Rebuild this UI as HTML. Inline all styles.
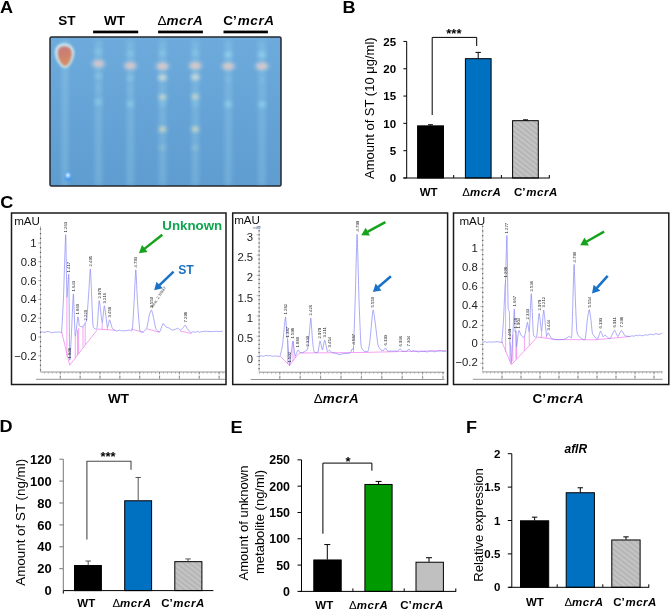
<!DOCTYPE html>
<html><head><meta charset="utf-8"><style>
html,body{margin:0;padding:0;background:#fff;}
svg{display:block;font-family:"Liberation Sans", sans-serif;will-change:transform;}
</style></head><body>
<svg width="670" height="611" viewBox="0 0 670 611">
<rect width="670" height="611" fill="#fff"/>
<text x="0" y="0" font-size="16" font-weight="bold" transform="translate(0.1,12.6) scale(1.13,1)">A</text>
<text x="0" y="0" font-size="16" font-weight="bold" transform="translate(342.6,12.6) scale(1.13,1)">B</text>
<text x="0" y="0" font-size="16" font-weight="bold" transform="translate(0.2,207.6) scale(1.13,1)">C</text>
<text x="0" y="0" font-size="16" font-weight="bold" transform="translate(-0.4,432.4) scale(1.13,1)">D</text>
<text x="0" y="0" font-size="16" font-weight="bold" transform="translate(230.5,433.2) scale(1.13,1)">E</text>
<text x="0" y="0" font-size="16" font-weight="bold" transform="translate(466.1,433.2) scale(1.13,1)">F</text>
<text x="67" y="24.8" font-size="13.5" font-weight="bold" font-style="normal" text-anchor="middle" fill="#000" >ST</text>
<text x="114.5" y="24.7" font-size="13.5" font-weight="bold" font-style="normal" text-anchor="middle" fill="#000" >WT</text>
<text x="180.4" y="24.7" font-size="13.5" font-weight="bold" font-style="normal" text-anchor="middle" fill="#000" ><tspan font-weight="normal" font-style="normal">Δ</tspan><tspan font-style="italic" letter-spacing="0.61">mcrA</tspan></text>
<text x="249" y="24.7" font-size="13.5" font-weight="bold" font-style="normal" text-anchor="middle" fill="#000" >C’<tspan font-style="italic" letter-spacing="0.61" dx="0.81">mcrA</tspan></text>
<rect x="93.1" y="30.6" width="45.099999999999994" height="2.7" fill="#000" stroke="none" stroke-width="0" />
<rect x="158.1" y="30.6" width="44.80000000000001" height="2.7" fill="#000" stroke="none" stroke-width="0" />
<rect x="223.5" y="30.6" width="44.39999999999998" height="2.7" fill="#000" stroke="none" stroke-width="0" />
<defs><filter id="b1" x="-50%" y="-50%" width="200%" height="200%"><feGaussianBlur stdDeviation="2.0"/></filter><filter id="b2" x="-50%" y="-50%" width="200%" height="200%"><feGaussianBlur stdDeviation="2.5"/></filter><filter id="b3" x="-50%" y="-50%" width="200%" height="200%"><feGaussianBlur stdDeviation="1.0"/></filter><clipPath id="plate"><rect x="50.5" y="37.5" width="230" height="148"/></clipPath><pattern id="hatch" patternUnits="userSpaceOnUse" width="4" height="4" patternTransform="rotate(-52)"><rect width="4" height="4" fill="#c4c4c4"/><rect width="1.7" height="4" fill="#b3b3b3"/></pattern></defs>
<linearGradient id="plategrad" x1="0" y1="0" x2="0" y2="1"><stop offset="0" stop-color="#6eabdc"/><stop offset="0.45" stop-color="#66a4d7"/><stop offset="1" stop-color="#5f9dd1"/></linearGradient>
<rect x="50" y="37" width="231" height="149" fill="url(#plategrad)" stroke="#25282f" stroke-width="1.5" rx="1.5"/>
<g clip-path="url(#plate)">
<rect x="62" y="40" width="6" height="146" fill="#a4dcf0" stroke="none" stroke-width="0" opacity="0.33" filter="url(#b2)"/>
<rect x="95.5" y="40" width="6" height="146" fill="#a4dcf0" stroke="none" stroke-width="0" opacity="0.33" filter="url(#b2)"/>
<rect x="127.30000000000001" y="40" width="6" height="146" fill="#a4dcf0" stroke="none" stroke-width="0" opacity="0.33" filter="url(#b2)"/>
<rect x="159.5" y="40" width="6" height="146" fill="#a4dcf0" stroke="none" stroke-width="0" opacity="0.33" filter="url(#b2)"/>
<rect x="192.3" y="40" width="6" height="146" fill="#a4dcf0" stroke="none" stroke-width="0" opacity="0.33" filter="url(#b2)"/>
<rect x="225.3" y="40" width="6" height="146" fill="#a4dcf0" stroke="none" stroke-width="0" opacity="0.33" filter="url(#b2)"/>
<rect x="258.9" y="40" width="6" height="146" fill="#a4dcf0" stroke="none" stroke-width="0" opacity="0.33" filter="url(#b2)"/>
<linearGradient id="stg" x1="0" y1="0" x2="0.25" y2="1"><stop offset="0" stop-color="#c97a80"/><stop offset="0.5" stop-color="#cc806e"/><stop offset="1" stop-color="#d48e62"/></linearGradient>
<path d="M64.5,43.2 C71.5,43.2 75.5,49 74,55.5 C72.5,62 69,68 65,68 C60.5,68 55,60 54.8,52.5 C54.8,46.5 58.5,43.2 64.5,43.2 Z" fill="#d4ecf0" opacity="0.9" filter="url(#b3)"/>
<path d="M64.5,46.3 C70,46.3 72.6,50.5 71.6,56 C70.6,61.5 67.6,66 65.2,66 C62,66 58,59.5 57.8,53 C57.8,48.5 60,46.3 64.5,46.3 Z" fill="url(#stg)" filter="url(#b3)"/>
<ellipse cx="98.5" cy="51.8" rx="3.2" ry="2.2" fill="#98dcf0" opacity="0.55" filter="url(#b1)"/>
<ellipse cx="98.5" cy="63.8" rx="6.4" ry="3.2" fill="#f0dcd0" opacity="0.8" filter="url(#b1)"/>
<ellipse cx="98.5" cy="63.8" rx="3.2" ry="1.5" fill="#e4a8b0" opacity="0.7" filter="url(#b1)"/>
<ellipse cx="98.5" cy="76.0" rx="3" ry="2" fill="#a8e4f4" opacity="0.5" filter="url(#b1)"/>
<ellipse cx="98.5" cy="88" rx="2.5" ry="1.8" fill="#a0d8f0" opacity="0.25" filter="url(#b1)"/>
<ellipse cx="98.5" cy="102.0" rx="3.2" ry="2.4" fill="#a0e6f6" opacity="0.6" filter="url(#b1)"/>
<ellipse cx="130.3" cy="53.8" rx="3.2" ry="2.2" fill="#98dcf0" opacity="0.55" filter="url(#b1)"/>
<ellipse cx="130.3" cy="65.8" rx="6.4" ry="3.2" fill="#f0dcd0" opacity="0.8" filter="url(#b1)"/>
<ellipse cx="130.3" cy="65.8" rx="3.2" ry="1.5" fill="#e4a8b0" opacity="0.7" filter="url(#b1)"/>
<ellipse cx="130.3" cy="78.0" rx="3" ry="2" fill="#a8e4f4" opacity="0.5" filter="url(#b1)"/>
<ellipse cx="130.3" cy="90" rx="2.5" ry="1.8" fill="#a0d8f0" opacity="0.25" filter="url(#b1)"/>
<ellipse cx="130.3" cy="104.0" rx="3.2" ry="2.4" fill="#a0e6f6" opacity="0.6" filter="url(#b1)"/>
<ellipse cx="162.5" cy="53.2" rx="3.2" ry="2.2" fill="#98dcf0" opacity="0.55" filter="url(#b1)"/>
<ellipse cx="162.5" cy="66.3" rx="6.4" ry="3.2" fill="#f0dcd0" opacity="0.85" filter="url(#b1)"/>
<ellipse cx="162.5" cy="66.3" rx="3.2" ry="1.5" fill="#e4a8b0" opacity="0.7" filter="url(#b1)"/>
<ellipse cx="162.5" cy="77.5" rx="4.2" ry="2.6" fill="#f2eed8" opacity="0.85" filter="url(#b1)"/>
<ellipse cx="162.5" cy="97.2" rx="3.6" ry="2.5" fill="#f2ecc8" opacity="0.8" filter="url(#b1)"/>
<ellipse cx="162.5" cy="103.8" rx="3" ry="2" fill="#a0e0f0" opacity="0.45" filter="url(#b1)"/>
<ellipse cx="162.5" cy="129.2" rx="3.5" ry="2.5" fill="#f2e8b8" opacity="0.85" filter="url(#b1)"/>
<ellipse cx="162.5" cy="147.5" rx="2.8" ry="2.2" fill="#d0dcc8" opacity="0.4" filter="url(#b1)"/>
<ellipse cx="195.3" cy="52.7" rx="3.2" ry="2.2" fill="#98dcf0" opacity="0.55" filter="url(#b1)"/>
<ellipse cx="195.3" cy="65.8" rx="6.4" ry="3.2" fill="#f0dcd0" opacity="0.85" filter="url(#b1)"/>
<ellipse cx="195.3" cy="65.8" rx="3.2" ry="1.5" fill="#e4a8b0" opacity="0.7" filter="url(#b1)"/>
<ellipse cx="195.3" cy="77.0" rx="4.2" ry="2.6" fill="#f2eed8" opacity="0.85" filter="url(#b1)"/>
<ellipse cx="195.3" cy="96.7" rx="3.6" ry="2.5" fill="#f2ecc8" opacity="0.8" filter="url(#b1)"/>
<ellipse cx="195.3" cy="103.3" rx="3" ry="2" fill="#a0e0f0" opacity="0.45" filter="url(#b1)"/>
<ellipse cx="195.3" cy="129.2" rx="3.5" ry="2.5" fill="#f2e8b8" opacity="0.85" filter="url(#b1)"/>
<ellipse cx="195.3" cy="147.5" rx="2.8" ry="2.2" fill="#d0dcc8" opacity="0.4" filter="url(#b1)"/>
<ellipse cx="228.3" cy="54.5" rx="3.4" ry="2.4" fill="#a0e8f8" opacity="0.7" filter="url(#b1)"/>
<ellipse cx="228.3" cy="66.3" rx="6.4" ry="3.2" fill="#f0dcd0" opacity="0.85" filter="url(#b1)"/>
<ellipse cx="228.3" cy="66.3" rx="3.2" ry="1.5" fill="#e4a8b0" opacity="0.7" filter="url(#b1)"/>
<ellipse cx="228.3" cy="104.2" rx="3.4" ry="2.6" fill="#a0e8f8" opacity="0.65" filter="url(#b1)"/>
<ellipse cx="228.3" cy="80" rx="2.5" ry="2" fill="#a0dcf0" opacity="0.3" filter="url(#b1)"/>
<ellipse cx="261.9" cy="54.5" rx="3.4" ry="2.4" fill="#a0e8f8" opacity="0.7" filter="url(#b1)"/>
<ellipse cx="261.9" cy="66.3" rx="6.4" ry="3.2" fill="#f0dcd0" opacity="0.85" filter="url(#b1)"/>
<ellipse cx="261.9" cy="66.3" rx="3.2" ry="1.5" fill="#e4a8b0" opacity="0.7" filter="url(#b1)"/>
<ellipse cx="261.9" cy="104.2" rx="3.4" ry="2.6" fill="#a0e8f8" opacity="0.65" filter="url(#b1)"/>
<ellipse cx="261.9" cy="80" rx="2.5" ry="2" fill="#a0dcf0" opacity="0.3" filter="url(#b1)"/>
<ellipse cx="68" cy="176.5" rx="3.4" ry="4.6" fill="#3f95f4" opacity="0.85" filter="url(#b3)"/>
<ellipse cx="67.9" cy="175.2" rx="2.0" ry="2.2" fill="#e8f8ff" opacity="1" filter="url(#b3)"/>
</g>
<rect x="417.59999999999997" y="125.8648" width="25.899999999999988" height="52.1352" fill="#000" stroke="#000" stroke-width="1" />
<rect x="465.4" y="58.68220000000001" width="25.7" height="119.31779999999999" fill="#0070c0" stroke="#000" stroke-width="1" />
<rect x="512.6" y="120.6759" width="25.7" height="57.3241" fill="url(#hatch)" stroke="#000" stroke-width="1" />
<line x1="430.5" y1="124.74549999999999" x2="430.5" y2="125.5648" stroke="#000" stroke-width="1" />
<line x1="428.0" y1="124.74549999999999" x2="433.0" y2="124.74549999999999" stroke="#000" stroke-width="1" />
<line x1="478.2" y1="52.37400000000001" x2="478.2" y2="58.38220000000001" stroke="#000" stroke-width="1" />
<line x1="475.5" y1="52.37400000000001" x2="480.9" y2="52.37400000000001" stroke="#000" stroke-width="1" />
<line x1="525.5" y1="119.8297" x2="525.5" y2="120.3759" stroke="#000" stroke-width="1" />
<line x1="523.0" y1="119.8297" x2="528.0" y2="119.8297" stroke="#000" stroke-width="1" />
<line x1="403.4" y1="178" x2="549.8" y2="178" stroke="#000" stroke-width="1" />
<line x1="453.7" y1="178" x2="453.7" y2="175" stroke="#000" stroke-width="1" />
<line x1="501.4" y1="178" x2="501.4" y2="175" stroke="#000" stroke-width="1" />
<line x1="549.3" y1="178" x2="549.3" y2="175" stroke="#000" stroke-width="1" />
<line x1="406.7" y1="41.45000000000002" x2="406.7" y2="178.0" stroke="#000" stroke-width="1" />
<line x1="403.4" y1="178.0" x2="406.7" y2="178.0" stroke="#000" stroke-width="1" />
<text x="396.09999999999997" y="182.14" font-size="11.5" font-weight="bold" font-style="normal" text-anchor="end" fill="#000" >0</text>
<line x1="403.4" y1="150.69" x2="406.7" y2="150.69" stroke="#000" stroke-width="1" />
<text x="396.09999999999997" y="154.82999999999998" font-size="11.5" font-weight="bold" font-style="normal" text-anchor="end" fill="#000" >5</text>
<line x1="403.4" y1="123.38" x2="406.7" y2="123.38" stroke="#000" stroke-width="1" />
<text x="396.09999999999997" y="127.52" font-size="11.5" font-weight="bold" font-style="normal" text-anchor="end" fill="#000" >10</text>
<line x1="403.4" y1="96.07000000000001" x2="406.7" y2="96.07000000000001" stroke="#000" stroke-width="1" />
<text x="396.09999999999997" y="100.21000000000001" font-size="11.5" font-weight="bold" font-style="normal" text-anchor="end" fill="#000" >15</text>
<line x1="403.4" y1="68.76" x2="406.7" y2="68.76" stroke="#000" stroke-width="1" />
<text x="396.09999999999997" y="72.9" font-size="11.5" font-weight="bold" font-style="normal" text-anchor="end" fill="#000" >20</text>
<line x1="403.4" y1="41.45000000000002" x2="406.7" y2="41.45000000000002" stroke="#000" stroke-width="1" />
<text x="396.09999999999997" y="45.59000000000002" font-size="11.5" font-weight="bold" font-style="normal" text-anchor="end" fill="#000" >25</text>
<path d="M432.2,115 V37.4 H476.7 V46" fill="none" stroke="#000" stroke-width="1"/>
<text x="453.9" y="38.2" font-size="13" font-weight="bold" font-style="normal" text-anchor="middle" fill="#000" >***</text>
<text x="428.7" y="196.4" font-size="11.5" font-weight="bold" font-style="normal" text-anchor="middle" fill="#000" >WT</text>
<text x="481.8" y="196.4" font-size="11.5" font-weight="bold" font-style="normal" text-anchor="middle" fill="#000" ><tspan font-weight="normal" font-style="normal">Δ</tspan><tspan font-style="italic" letter-spacing="0.52">mcrA</tspan></text>
<text x="535.9" y="196.4" font-size="11.5" font-weight="bold" font-style="normal" text-anchor="middle" fill="#000" >C’<tspan font-style="italic" letter-spacing="0.52" dx="0.69">mcrA</tspan></text>
<text x="0" y="0" font-size="13" font-weight="normal" font-style="normal" text-anchor="middle" fill="#000" transform="translate(374.2,108.2) rotate(-90)">Amount of ST (10 μg/ml)</text>
<rect x="74.5" y="565.4936799999999" width="26.900000000000002" height="25.10632000000005" fill="#000" stroke="#000" stroke-width="1" />
<rect x="124.7" y="500.77327" width="26.900000000000002" height="89.82673000000001" fill="#0070c0" stroke="#000" stroke-width="1" />
<rect x="174.8" y="561.66083" width="27.100000000000005" height="28.939169999999944" fill="url(#hatch)" stroke="#000" stroke-width="1" />
<line x1="88.2" y1="561.0323000000001" x2="88.2" y2="565.19368" stroke="#555" stroke-width="1" />
<line x1="85.5" y1="561.0323000000001" x2="90.9" y2="561.0323000000001" stroke="#555" stroke-width="1" />
<line x1="138.2" y1="477.47617" x2="138.2" y2="500.47327" stroke="#555" stroke-width="1" />
<line x1="135.5" y1="477.47617" x2="140.89999999999998" y2="477.47617" stroke="#555" stroke-width="1" />
<line x1="188.1" y1="558.9516100000001" x2="188.1" y2="561.3608300000001" stroke="#555" stroke-width="1" />
<line x1="185.4" y1="558.9516100000001" x2="190.79999999999998" y2="558.9516100000001" stroke="#555" stroke-width="1" />
<line x1="63.3" y1="459.188" x2="63.3" y2="568.698" stroke="#777" stroke-width="1" />
<line x1="59.3" y1="568.698" x2="63.3" y2="568.698" stroke="#777" stroke-width="1" />
<text x="51.8" y="573.3779999999999" font-size="13" font-weight="bold" font-style="normal" text-anchor="end" fill="#000" >20</text>
<line x1="59.3" y1="546.796" x2="63.3" y2="546.796" stroke="#777" stroke-width="1" />
<text x="51.8" y="551.476" font-size="13" font-weight="bold" font-style="normal" text-anchor="end" fill="#000" >40</text>
<line x1="59.3" y1="524.894" x2="63.3" y2="524.894" stroke="#777" stroke-width="1" />
<text x="51.8" y="529.574" font-size="13" font-weight="bold" font-style="normal" text-anchor="end" fill="#000" >60</text>
<line x1="59.3" y1="502.992" x2="63.3" y2="502.992" stroke="#777" stroke-width="1" />
<text x="51.8" y="507.672" font-size="13" font-weight="bold" font-style="normal" text-anchor="end" fill="#000" >80</text>
<line x1="59.3" y1="481.09000000000003" x2="63.3" y2="481.09000000000003" stroke="#777" stroke-width="1" />
<text x="51.8" y="485.77000000000004" font-size="13" font-weight="bold" font-style="normal" text-anchor="end" fill="#000" >100</text>
<line x1="59.3" y1="459.188" x2="63.3" y2="459.188" stroke="#777" stroke-width="1" />
<text x="51.8" y="463.868" font-size="13" font-weight="bold" font-style="normal" text-anchor="end" fill="#000" >120</text>
<line x1="63.3" y1="568.698" x2="63.3" y2="590.6" stroke="#777" stroke-width="1" />
<text x="51.8" y="595.28" font-size="13" font-weight="bold" font-style="normal" text-anchor="end" fill="#000" >0</text>
<line x1="63.3" y1="590.6" x2="213.4" y2="590.6" stroke="#000" stroke-width="1" />
<line x1="63.3" y1="590.6" x2="63.3" y2="593.6" stroke="#000" stroke-width="1" />
<path d="M86.9,539.5 V461.2 H131 V469.8" fill="none" stroke="#4a4a4a" stroke-width="1.1"/>
<text x="108" y="461" font-size="13" font-weight="bold" font-style="normal" text-anchor="middle" fill="#000" >***</text>
<text x="86.3" y="607.3" font-size="11.5" font-weight="bold" font-style="normal" text-anchor="middle" fill="#000" >WT</text>
<text x="132" y="607.3" font-size="11.5" font-weight="bold" font-style="normal" text-anchor="middle" fill="#000" ><tspan font-weight="normal" font-style="normal">Δ</tspan><tspan font-style="italic" letter-spacing="0.52">mcrA</tspan></text>
<text x="183" y="607.3" font-size="11.5" font-weight="bold" font-style="normal" text-anchor="middle" fill="#000" >C’<tspan font-style="italic" letter-spacing="0.52" dx="0.69">mcrA</tspan></text>
<text x="0" y="0" font-size="13.4" font-weight="normal" font-style="normal" text-anchor="middle" fill="#000" transform="translate(25.4,522.3) rotate(-90)">Amount of ST (ng/ml)</text>
<rect x="313.79999999999995" y="559.9701399999999" width="27.400000000000045" height="31.42986000000003" fill="#000" stroke="#000" stroke-width="1" />
<rect x="364.9" y="484.46044" width="27.2" height="106.93955999999999" fill="#009900" stroke="#000" stroke-width="1" />
<rect x="416.0" y="562.2327999999999" width="27.399999999999988" height="29.167200000000047" fill="#c0c0c0" stroke="#000" stroke-width="1" />
<line x1="327.3" y1="544.5681999999999" x2="327.3" y2="559.67014" stroke="#000" stroke-width="1" />
<line x1="324.3" y1="544.5681999999999" x2="330.3" y2="544.5681999999999" stroke="#000" stroke-width="1" />
<line x1="378.6" y1="481.4242" x2="378.6" y2="484.16044" stroke="#000" stroke-width="1" />
<line x1="375.6" y1="481.4242" x2="381.6" y2="481.4242" stroke="#000" stroke-width="1" />
<line x1="429.0" y1="557.7232" x2="429.0" y2="561.9327999999999" stroke="#000" stroke-width="1" />
<line x1="426.0" y1="557.7232" x2="432.0" y2="557.7232" stroke="#000" stroke-width="1" />
<line x1="301.5" y1="459.84999999999997" x2="301.5" y2="591.4" stroke="#000" stroke-width="1" />
<line x1="297.5" y1="591.4" x2="301.5" y2="591.4" stroke="#000" stroke-width="1" />
<text x="290.0" y="595.864" font-size="12.4" font-weight="bold" font-style="normal" text-anchor="end" fill="#000" >0</text>
<line x1="297.5" y1="565.09" x2="301.5" y2="565.09" stroke="#000" stroke-width="1" />
<text x="290.0" y="569.5540000000001" font-size="12.4" font-weight="bold" font-style="normal" text-anchor="end" fill="#000" >50</text>
<line x1="297.5" y1="538.78" x2="301.5" y2="538.78" stroke="#000" stroke-width="1" />
<text x="290.0" y="543.244" font-size="12.4" font-weight="bold" font-style="normal" text-anchor="end" fill="#000" >100</text>
<line x1="297.5" y1="512.47" x2="301.5" y2="512.47" stroke="#000" stroke-width="1" />
<text x="290.0" y="516.9340000000001" font-size="12.4" font-weight="bold" font-style="normal" text-anchor="end" fill="#000" >150</text>
<line x1="297.5" y1="486.15999999999997" x2="301.5" y2="486.15999999999997" stroke="#000" stroke-width="1" />
<text x="290.0" y="490.62399999999997" font-size="12.4" font-weight="bold" font-style="normal" text-anchor="end" fill="#000" >200</text>
<line x1="297.5" y1="459.84999999999997" x2="301.5" y2="459.84999999999997" stroke="#000" stroke-width="1" />
<text x="290.0" y="464.31399999999996" font-size="12.4" font-weight="bold" font-style="normal" text-anchor="end" fill="#000" >250</text>
<line x1="299.6" y1="591.4" x2="456.2" y2="591.4" stroke="#000" stroke-width="1" />
<line x1="352.9" y1="591.4" x2="352.9" y2="588.4" stroke="#000" stroke-width="1" />
<line x1="404.2" y1="591.4" x2="404.2" y2="588.4" stroke="#000" stroke-width="1" />
<line x1="455.8" y1="591.4" x2="455.8" y2="588.4" stroke="#000" stroke-width="1" />
<path d="M322.9,533.7 V463.1 H371.9 V470.7" fill="none" stroke="#000" stroke-width="1"/>
<text x="348" y="466" font-size="13" font-weight="bold" font-style="normal" text-anchor="middle" fill="#000" >*</text>
<text x="324.3" y="609.2" font-size="11.5" font-weight="bold" font-style="normal" text-anchor="middle" fill="#000" >WT</text>
<text x="368.7" y="609.2" font-size="11.5" font-weight="bold" font-style="normal" text-anchor="middle" fill="#000" ><tspan font-weight="normal" font-style="normal">Δ</tspan><tspan font-style="italic" letter-spacing="0.52">mcrA</tspan></text>
<text x="422" y="609.2" font-size="11.5" font-weight="bold" font-style="normal" text-anchor="middle" fill="#000" >C’<tspan font-style="italic" letter-spacing="0.52" dx="0.69">mcrA</tspan></text>
<text x="0" y="0" font-size="13" font-weight="normal" font-style="normal" text-anchor="middle" fill="#000" transform="translate(248.3,523) rotate(-90)">Amount of unknown</text>
<text x="0" y="0" font-size="13" font-weight="normal" font-style="normal" text-anchor="middle" fill="#000" transform="translate(264,522) rotate(-90)">metabolite (ng/ml)</text>
<rect x="520.5" y="520.8" width="28.2" height="66.49999999999996" fill="#000" stroke="#000" stroke-width="1" />
<rect x="566.1999999999999" y="492.74399999999997" width="28.2" height="94.556" fill="#0070c0" stroke="#000" stroke-width="1" />
<rect x="611.8" y="539.9715999999999" width="28.300000000000022" height="47.32840000000006" fill="url(#hatch)" stroke="#000" stroke-width="1" />
<line x1="534.6" y1="517.16" x2="534.6" y2="520.5" stroke="#000" stroke-width="1" />
<line x1="531.9" y1="517.16" x2="537.3000000000001" y2="517.16" stroke="#000" stroke-width="1" />
<line x1="580.3" y1="487.768" x2="580.3" y2="492.44399999999996" stroke="#000" stroke-width="1" />
<line x1="577.5999999999999" y1="487.768" x2="583.0" y2="487.768" stroke="#000" stroke-width="1" />
<line x1="626.0" y1="536.866" x2="626.0" y2="539.6715999999999" stroke="#000" stroke-width="1" />
<line x1="623.3" y1="536.866" x2="628.7" y2="536.866" stroke="#000" stroke-width="1" />
<line x1="511.8" y1="453.69999999999993" x2="511.8" y2="587.3" stroke="#000" stroke-width="1" />
<line x1="507.8" y1="587.3" x2="511.8" y2="587.3" stroke="#000" stroke-width="1" />
<text x="500.3" y="591.4399999999999" font-size="11.5" font-weight="bold" font-style="normal" text-anchor="end" fill="#000" >0</text>
<line x1="507.8" y1="553.9" x2="511.8" y2="553.9" stroke="#000" stroke-width="1" />
<text x="500.3" y="558.04" font-size="11.5" font-weight="bold" font-style="normal" text-anchor="end" fill="#000" >0.5</text>
<line x1="507.8" y1="520.5" x2="511.8" y2="520.5" stroke="#000" stroke-width="1" />
<text x="500.3" y="524.64" font-size="11.5" font-weight="bold" font-style="normal" text-anchor="end" fill="#000" >1</text>
<line x1="507.8" y1="487.09999999999997" x2="511.8" y2="487.09999999999997" stroke="#000" stroke-width="1" />
<text x="500.3" y="491.23999999999995" font-size="11.5" font-weight="bold" font-style="normal" text-anchor="end" fill="#000" >1.5</text>
<line x1="507.8" y1="453.69999999999993" x2="511.8" y2="453.69999999999993" stroke="#000" stroke-width="1" />
<text x="500.3" y="457.8399999999999" font-size="11.5" font-weight="bold" font-style="normal" text-anchor="end" fill="#000" >2</text>
<line x1="508.8" y1="587.3" x2="649.1" y2="587.3" stroke="#000" stroke-width="1" />
<line x1="557.2" y1="587.3" x2="557.2" y2="584.3" stroke="#000" stroke-width="1" />
<line x1="602.8" y1="587.3" x2="602.8" y2="584.3" stroke="#000" stroke-width="1" />
<line x1="648.8" y1="587.3" x2="648.8" y2="584.3" stroke="#000" stroke-width="1" />
<text x="575.8" y="453" font-size="12" font-weight="bold" font-style="italic" text-anchor="middle" fill="#000" >aflR</text>
<text x="534.9" y="606" font-size="11.5" font-weight="bold" font-style="normal" text-anchor="middle" fill="#000" >WT</text>
<text x="584" y="606" font-size="11.5" font-weight="bold" font-style="normal" text-anchor="middle" fill="#000" ><tspan font-weight="normal" font-style="normal">Δ</tspan><tspan font-style="italic" letter-spacing="0.52">mcrA</tspan></text>
<text x="635.1" y="606" font-size="11.5" font-weight="bold" font-style="normal" text-anchor="middle" fill="#000" >C’<tspan font-style="italic" letter-spacing="0.52" dx="0.69">mcrA</tspan></text>
<text x="0" y="0" font-size="13" font-weight="normal" font-style="normal" text-anchor="middle" fill="#000" transform="translate(482.6,525) rotate(-90)">Relative expression</text>
<line x1="40.5" y1="226" x2="40.5" y2="372.0" stroke="#b4b4b4" stroke-width="0.8" />
<rect x="39.9" y="228.30000000000004" width="1.2" height="1.2" fill="#555" stroke="none" stroke-width="0" />
<rect x="39.9" y="233.00000000000003" width="1.2" height="1.2" fill="#555" stroke="none" stroke-width="0" />
<rect x="39.9" y="237.70000000000002" width="1.2" height="1.2" fill="#555" stroke="none" stroke-width="0" />
<rect x="39.9" y="242.4" width="1.2" height="1.2" fill="#555" stroke="none" stroke-width="0" />
<rect x="39.9" y="247.1" width="1.2" height="1.2" fill="#555" stroke="none" stroke-width="0" />
<rect x="39.9" y="251.79999999999998" width="1.2" height="1.2" fill="#555" stroke="none" stroke-width="0" />
<rect x="39.9" y="256.49999999999994" width="1.2" height="1.2" fill="#555" stroke="none" stroke-width="0" />
<rect x="39.9" y="261.19999999999993" width="1.2" height="1.2" fill="#555" stroke="none" stroke-width="0" />
<rect x="39.9" y="265.8999999999999" width="1.2" height="1.2" fill="#555" stroke="none" stroke-width="0" />
<rect x="39.9" y="270.5999999999999" width="1.2" height="1.2" fill="#555" stroke="none" stroke-width="0" />
<rect x="39.9" y="275.2999999999999" width="1.2" height="1.2" fill="#555" stroke="none" stroke-width="0" />
<rect x="39.9" y="279.9999999999999" width="1.2" height="1.2" fill="#555" stroke="none" stroke-width="0" />
<rect x="39.9" y="284.6999999999999" width="1.2" height="1.2" fill="#555" stroke="none" stroke-width="0" />
<rect x="39.9" y="289.39999999999986" width="1.2" height="1.2" fill="#555" stroke="none" stroke-width="0" />
<rect x="39.9" y="294.09999999999985" width="1.2" height="1.2" fill="#555" stroke="none" stroke-width="0" />
<rect x="39.9" y="298.79999999999984" width="1.2" height="1.2" fill="#555" stroke="none" stroke-width="0" />
<rect x="39.9" y="303.49999999999983" width="1.2" height="1.2" fill="#555" stroke="none" stroke-width="0" />
<rect x="39.9" y="308.1999999999998" width="1.2" height="1.2" fill="#555" stroke="none" stroke-width="0" />
<rect x="39.9" y="312.8999999999998" width="1.2" height="1.2" fill="#555" stroke="none" stroke-width="0" />
<rect x="39.9" y="317.5999999999998" width="1.2" height="1.2" fill="#555" stroke="none" stroke-width="0" />
<rect x="39.9" y="322.2999999999998" width="1.2" height="1.2" fill="#555" stroke="none" stroke-width="0" />
<rect x="39.9" y="326.9999999999998" width="1.2" height="1.2" fill="#555" stroke="none" stroke-width="0" />
<rect x="39.9" y="331.69999999999976" width="1.2" height="1.2" fill="#555" stroke="none" stroke-width="0" />
<rect x="39.9" y="336.39999999999975" width="1.2" height="1.2" fill="#555" stroke="none" stroke-width="0" />
<rect x="39.9" y="341.09999999999974" width="1.2" height="1.2" fill="#555" stroke="none" stroke-width="0" />
<rect x="39.9" y="345.7999999999997" width="1.2" height="1.2" fill="#555" stroke="none" stroke-width="0" />
<rect x="39.9" y="350.4999999999997" width="1.2" height="1.2" fill="#555" stroke="none" stroke-width="0" />
<rect x="39.9" y="355.1999999999997" width="1.2" height="1.2" fill="#555" stroke="none" stroke-width="0" />
<rect x="39.9" y="359.8999999999997" width="1.2" height="1.2" fill="#555" stroke="none" stroke-width="0" />
<rect x="39.9" y="364.5999999999997" width="1.2" height="1.2" fill="#555" stroke="none" stroke-width="0" />
<rect x="39.9" y="369.29999999999967" width="1.2" height="1.2" fill="#555" stroke="none" stroke-width="0" />
<text x="36.5" y="246.9" font-size="11.3" font-weight="normal" font-style="normal" text-anchor="end" fill="#222" >1</text>
<line x1="38.0" y1="243.0" x2="40.5" y2="243.0" stroke="#a0a8c0" stroke-width="0.8" />
<text x="36.5" y="265.7" font-size="11.3" font-weight="normal" font-style="normal" text-anchor="end" fill="#222" >0.8</text>
<line x1="38.0" y1="261.8" x2="40.5" y2="261.8" stroke="#a0a8c0" stroke-width="0.8" />
<text x="36.5" y="284.5" font-size="11.3" font-weight="normal" font-style="normal" text-anchor="end" fill="#222" >0.6</text>
<line x1="38.0" y1="280.6" x2="40.5" y2="280.6" stroke="#a0a8c0" stroke-width="0.8" />
<text x="36.5" y="303.29999999999995" font-size="11.3" font-weight="normal" font-style="normal" text-anchor="end" fill="#222" >0.4</text>
<line x1="38.0" y1="299.4" x2="40.5" y2="299.4" stroke="#a0a8c0" stroke-width="0.8" />
<text x="36.5" y="322.09999999999997" font-size="11.3" font-weight="normal" font-style="normal" text-anchor="end" fill="#222" >0.2</text>
<line x1="38.0" y1="318.2" x2="40.5" y2="318.2" stroke="#a0a8c0" stroke-width="0.8" />
<text x="36.5" y="340.9" font-size="11.3" font-weight="normal" font-style="normal" text-anchor="end" fill="#222" >0</text>
<line x1="38.0" y1="337.0" x2="40.5" y2="337.0" stroke="#a0a8c0" stroke-width="0.8" />
<text x="36.5" y="359.7" font-size="11.3" font-weight="normal" font-style="normal" text-anchor="end" fill="#222" >−0.2</text>
<line x1="38.0" y1="355.8" x2="40.5" y2="355.8" stroke="#a0a8c0" stroke-width="0.8" />
<line x1="40.5" y1="372.0" x2="225.2" y2="372.0" stroke="#8a8a8a" stroke-width="0.9" />
<line x1="44.41999999999999" y1="372.0" x2="44.41999999999999" y2="373.6" stroke="#9a9a9a" stroke-width="0.7" />
<line x1="48.389999999999986" y1="372.0" x2="48.389999999999986" y2="373.6" stroke="#9a9a9a" stroke-width="0.7" />
<line x1="52.359999999999985" y1="372.0" x2="52.359999999999985" y2="373.6" stroke="#9a9a9a" stroke-width="0.7" />
<line x1="56.329999999999984" y1="372.0" x2="56.329999999999984" y2="373.6" stroke="#9a9a9a" stroke-width="0.7" />
<line x1="60.29999999999998" y1="372.0" x2="60.29999999999998" y2="373.6" stroke="#9a9a9a" stroke-width="0.7" />
<line x1="64.26999999999998" y1="372.0" x2="64.26999999999998" y2="373.6" stroke="#9a9a9a" stroke-width="0.7" />
<line x1="68.23999999999998" y1="372.0" x2="68.23999999999998" y2="373.6" stroke="#9a9a9a" stroke-width="0.7" />
<line x1="72.20999999999998" y1="372.0" x2="72.20999999999998" y2="373.6" stroke="#9a9a9a" stroke-width="0.7" />
<line x1="76.17999999999998" y1="372.0" x2="76.17999999999998" y2="373.6" stroke="#9a9a9a" stroke-width="0.7" />
<line x1="80.14999999999998" y1="372.0" x2="80.14999999999998" y2="373.6" stroke="#9a9a9a" stroke-width="0.7" />
<line x1="84.11999999999998" y1="372.0" x2="84.11999999999998" y2="373.6" stroke="#9a9a9a" stroke-width="0.7" />
<line x1="88.08999999999997" y1="372.0" x2="88.08999999999997" y2="373.6" stroke="#9a9a9a" stroke-width="0.7" />
<line x1="92.05999999999997" y1="372.0" x2="92.05999999999997" y2="373.6" stroke="#9a9a9a" stroke-width="0.7" />
<line x1="96.02999999999997" y1="372.0" x2="96.02999999999997" y2="373.6" stroke="#9a9a9a" stroke-width="0.7" />
<line x1="99.99999999999997" y1="372.0" x2="99.99999999999997" y2="373.6" stroke="#9a9a9a" stroke-width="0.7" />
<line x1="103.96999999999997" y1="372.0" x2="103.96999999999997" y2="373.6" stroke="#9a9a9a" stroke-width="0.7" />
<line x1="107.93999999999997" y1="372.0" x2="107.93999999999997" y2="373.6" stroke="#9a9a9a" stroke-width="0.7" />
<line x1="111.90999999999997" y1="372.0" x2="111.90999999999997" y2="373.6" stroke="#9a9a9a" stroke-width="0.7" />
<line x1="115.87999999999997" y1="372.0" x2="115.87999999999997" y2="373.6" stroke="#9a9a9a" stroke-width="0.7" />
<line x1="119.84999999999997" y1="372.0" x2="119.84999999999997" y2="373.6" stroke="#9a9a9a" stroke-width="0.7" />
<line x1="123.81999999999996" y1="372.0" x2="123.81999999999996" y2="373.6" stroke="#9a9a9a" stroke-width="0.7" />
<line x1="127.78999999999996" y1="372.0" x2="127.78999999999996" y2="373.6" stroke="#9a9a9a" stroke-width="0.7" />
<line x1="131.75999999999996" y1="372.0" x2="131.75999999999996" y2="373.6" stroke="#9a9a9a" stroke-width="0.7" />
<line x1="135.72999999999996" y1="372.0" x2="135.72999999999996" y2="373.6" stroke="#9a9a9a" stroke-width="0.7" />
<line x1="139.69999999999996" y1="372.0" x2="139.69999999999996" y2="373.6" stroke="#9a9a9a" stroke-width="0.7" />
<line x1="143.66999999999996" y1="372.0" x2="143.66999999999996" y2="373.6" stroke="#9a9a9a" stroke-width="0.7" />
<line x1="147.63999999999996" y1="372.0" x2="147.63999999999996" y2="373.6" stroke="#9a9a9a" stroke-width="0.7" />
<line x1="151.60999999999996" y1="372.0" x2="151.60999999999996" y2="373.6" stroke="#9a9a9a" stroke-width="0.7" />
<line x1="155.57999999999996" y1="372.0" x2="155.57999999999996" y2="373.6" stroke="#9a9a9a" stroke-width="0.7" />
<line x1="159.54999999999995" y1="372.0" x2="159.54999999999995" y2="373.6" stroke="#9a9a9a" stroke-width="0.7" />
<line x1="163.51999999999995" y1="372.0" x2="163.51999999999995" y2="373.6" stroke="#9a9a9a" stroke-width="0.7" />
<line x1="167.48999999999995" y1="372.0" x2="167.48999999999995" y2="373.6" stroke="#9a9a9a" stroke-width="0.7" />
<line x1="171.45999999999995" y1="372.0" x2="171.45999999999995" y2="373.6" stroke="#9a9a9a" stroke-width="0.7" />
<line x1="175.42999999999995" y1="372.0" x2="175.42999999999995" y2="373.6" stroke="#9a9a9a" stroke-width="0.7" />
<line x1="179.39999999999995" y1="372.0" x2="179.39999999999995" y2="373.6" stroke="#9a9a9a" stroke-width="0.7" />
<line x1="183.36999999999995" y1="372.0" x2="183.36999999999995" y2="373.6" stroke="#9a9a9a" stroke-width="0.7" />
<line x1="187.33999999999995" y1="372.0" x2="187.33999999999995" y2="373.6" stroke="#9a9a9a" stroke-width="0.7" />
<line x1="191.30999999999995" y1="372.0" x2="191.30999999999995" y2="373.6" stroke="#9a9a9a" stroke-width="0.7" />
<line x1="195.27999999999994" y1="372.0" x2="195.27999999999994" y2="373.6" stroke="#9a9a9a" stroke-width="0.7" />
<line x1="199.24999999999994" y1="372.0" x2="199.24999999999994" y2="373.6" stroke="#9a9a9a" stroke-width="0.7" />
<line x1="203.21999999999994" y1="372.0" x2="203.21999999999994" y2="373.6" stroke="#9a9a9a" stroke-width="0.7" />
<line x1="207.18999999999994" y1="372.0" x2="207.18999999999994" y2="373.6" stroke="#9a9a9a" stroke-width="0.7" />
<line x1="211.15999999999994" y1="372.0" x2="211.15999999999994" y2="373.6" stroke="#9a9a9a" stroke-width="0.7" />
<line x1="215.12999999999994" y1="372.0" x2="215.12999999999994" y2="373.6" stroke="#9a9a9a" stroke-width="0.7" />
<line x1="219.09999999999994" y1="372.0" x2="219.09999999999994" y2="373.6" stroke="#9a9a9a" stroke-width="0.7" />
<line x1="223.06999999999994" y1="372.0" x2="223.06999999999994" y2="373.6" stroke="#9a9a9a" stroke-width="0.7" />
<line x1="60.3" y1="372.0" x2="60.3" y2="374.0" stroke="#777" stroke-width="0.8" />
<line x1="60.3" y1="374.0" x2="60.3" y2="379.3" stroke="#c4c4c4" stroke-width="0.7" />
<rect x="59.8" y="376.0" width="1.0" height="2.4" fill="#8a8a8a" stroke="none" stroke-width="0" />
<line x1="80.15" y1="372.0" x2="80.15" y2="374.0" stroke="#777" stroke-width="0.8" />
<line x1="80.15" y1="374.0" x2="80.15" y2="379.3" stroke="#c4c4c4" stroke-width="0.7" />
<rect x="79.65" y="376.0" width="1.0" height="2.4" fill="#8a8a8a" stroke="none" stroke-width="0" />
<line x1="100.0" y1="372.0" x2="100.0" y2="374.0" stroke="#777" stroke-width="0.8" />
<line x1="100.0" y1="374.0" x2="100.0" y2="379.3" stroke="#c4c4c4" stroke-width="0.7" />
<rect x="99.5" y="376.0" width="1.0" height="2.4" fill="#8a8a8a" stroke="none" stroke-width="0" />
<line x1="119.85" y1="372.0" x2="119.85" y2="374.0" stroke="#777" stroke-width="0.8" />
<line x1="119.85" y1="374.0" x2="119.85" y2="379.3" stroke="#c4c4c4" stroke-width="0.7" />
<rect x="119.35" y="376.0" width="1.0" height="2.4" fill="#8a8a8a" stroke="none" stroke-width="0" />
<line x1="139.7" y1="372.0" x2="139.7" y2="374.0" stroke="#777" stroke-width="0.8" />
<line x1="139.7" y1="374.0" x2="139.7" y2="379.3" stroke="#c4c4c4" stroke-width="0.7" />
<rect x="139.2" y="376.0" width="1.0" height="2.4" fill="#8a8a8a" stroke="none" stroke-width="0" />
<line x1="159.55" y1="372.0" x2="159.55" y2="374.0" stroke="#777" stroke-width="0.8" />
<line x1="159.55" y1="374.0" x2="159.55" y2="379.3" stroke="#c4c4c4" stroke-width="0.7" />
<rect x="159.05" y="376.0" width="1.0" height="2.4" fill="#8a8a8a" stroke="none" stroke-width="0" />
<line x1="179.4" y1="372.0" x2="179.4" y2="374.0" stroke="#777" stroke-width="0.8" />
<line x1="179.4" y1="374.0" x2="179.4" y2="379.3" stroke="#c4c4c4" stroke-width="0.7" />
<rect x="178.9" y="376.0" width="1.0" height="2.4" fill="#8a8a8a" stroke="none" stroke-width="0" />
<line x1="199.25" y1="372.0" x2="199.25" y2="374.0" stroke="#777" stroke-width="0.8" />
<line x1="199.25" y1="374.0" x2="199.25" y2="379.3" stroke="#c4c4c4" stroke-width="0.7" />
<rect x="198.75" y="376.0" width="1.0" height="2.4" fill="#8a8a8a" stroke="none" stroke-width="0" />
<line x1="219.10000000000002" y1="372.0" x2="219.10000000000002" y2="374.0" stroke="#777" stroke-width="0.8" />
<line x1="219.10000000000002" y1="374.0" x2="219.10000000000002" y2="379.3" stroke="#c4c4c4" stroke-width="0.7" />
<rect x="218.60000000000002" y="376.0" width="1.0" height="2.4" fill="#8a8a8a" stroke="none" stroke-width="0" />
<line x1="36.1" y1="379.3" x2="225.2" y2="379.3" stroke="#8a8a8a" stroke-width="0.9" />
<rect x="11.5" y="213" width="214.5" height="171.5" fill="none" stroke="#1a1a1a" stroke-width="1.5" />
<text x="14.2" y="225.2" font-size="11.6" font-weight="normal" font-style="normal" text-anchor="start" fill="#111" >mAU</text>
<path d="M61.6,331.6 L69.7,365.2 L97.8,329.0 L114.7,330.2" fill="none" stroke="#f27af0" stroke-width="0.7"/>
<path d="M131.0,329.0 L143.4,332.3" fill="none" stroke="#f27af0" stroke-width="0.7"/>
<path d="M147.0,328.8 L159.6,332.4" fill="none" stroke="#f27af0" stroke-width="0.7"/>
<path d="M180.0,331.0 L191.5,333.5" fill="none" stroke="#f27af0" stroke-width="0.7"/>
<path d="M66.9,297.0 L66.9,356.5" fill="none" stroke="#f27af0" stroke-width="0.7"/>
<path d="M75.3,336.0 L75.3,357.8" fill="none" stroke="#f27af0" stroke-width="0.7"/>
<path d="M77.5,330.0 L77.5,355.0" fill="none" stroke="#f27af0" stroke-width="0.7"/>
<path d="M78.6,328.0 L78.6,353.6" fill="none" stroke="#f27af0" stroke-width="0.7"/>
<path d="M83.0,327.0 L83.0,347.3" fill="none" stroke="#f27af0" stroke-width="0.7"/>
<path d="M85.2,323.0 L85.2,344.8" fill="none" stroke="#f27af0" stroke-width="0.7"/>
<path d="M102.2,322.8 L102.2,329.5" fill="none" stroke="#f27af0" stroke-width="0.7"/>
<path d="M107.4,327.2 L107.4,329.7" fill="none" stroke="#f27af0" stroke-width="0.7"/>
<path d="M40.50,331.93 C40.70,331.94 42.34,332.03 42.76,332.06 C43.17,332.10 44.74,332.42 45.10,332.37 C45.45,332.31 46.34,331.53 46.72,331.47 C47.11,331.41 48.96,331.64 49.37,331.75 C49.77,331.87 50.86,332.67 51.22,332.74 C51.58,332.80 52.99,332.52 53.38,332.46 C53.77,332.41 55.19,332.17 55.55,332.14 C55.90,332.10 56.89,332.11 57.29,332.09 C57.68,332.07 59.58,331.91 59.97,331.87 C60.36,331.82 61.29,334.47 61.60,331.60 C61.91,328.73 63.03,308.72 63.40,300.00 C63.77,291.28 65.39,234.97 65.70,234.70 C66.02,234.43 66.62,293.39 66.90,297.00 C67.18,300.61 68.55,269.17 68.80,274.80 C69.05,280.43 69.45,354.63 69.70,359.60 C69.95,364.57 71.27,335.90 71.60,330.00 C71.93,324.10 73.08,293.46 73.40,294.00 C73.72,294.54 74.80,333.94 75.20,336.00 C75.61,338.06 77.53,317.83 77.90,316.90 C78.27,315.97 79.02,324.84 79.30,325.70 C79.58,326.56 80.67,326.39 81.00,326.50 C81.33,326.61 82.62,327.23 83.00,326.90 C83.38,326.57 84.87,323.44 85.20,322.80 C85.53,322.16 86.39,322.30 86.70,319.80 C87.01,317.30 88.27,299.57 88.60,295.00 C88.93,290.43 90.09,268.10 90.40,269.00 C90.71,269.90 91.75,299.82 92.00,305.00 C92.25,310.18 92.75,324.43 93.20,326.50 C93.65,328.57 96.46,330.33 97.00,328.00 C97.54,325.67 98.73,301.07 99.20,300.60 C99.67,300.13 101.73,322.33 102.20,322.80 C102.67,323.27 103.93,305.40 104.40,305.80 C104.87,306.20 106.93,325.94 107.40,327.20 C107.87,328.46 109.19,319.77 109.60,319.80 C110.01,319.83 111.60,326.58 112.00,327.50 C112.40,328.42 113.64,329.71 114.00,330.00 C114.36,330.29 115.67,330.69 116.00,330.77 C116.33,330.85 117.27,330.94 117.62,330.88 C117.98,330.82 119.59,330.09 119.94,330.10 C120.30,330.11 121.19,330.92 121.53,330.97 C121.86,331.03 123.25,330.73 123.69,330.70 C124.13,330.67 125.90,330.69 126.39,330.63 C126.88,330.58 128.61,330.17 129.15,330.07 C129.68,329.97 131.85,332.21 132.30,329.50 C132.75,326.79 133.88,305.36 134.20,300.00 C134.51,294.64 135.51,269.90 135.80,269.90 C136.09,269.90 137.04,294.58 137.40,300.00 C137.76,305.42 139.26,327.23 139.80,330.10 C140.34,332.97 142.75,332.14 143.40,331.90 C144.05,331.66 146.47,328.92 147.00,327.40 C147.53,325.88 148.90,316.57 149.30,315.00 C149.71,313.43 151.11,309.73 151.50,310.00 C151.89,310.27 153.19,316.27 153.60,318.00 C154.00,319.73 155.46,327.95 156.00,329.20 C156.54,330.45 159.10,332.10 159.60,331.90 C160.10,331.70 161.28,327.76 161.60,327.00 C161.92,326.24 162.81,323.40 163.20,323.40 C163.59,323.40 165.41,326.60 165.90,327.00 C166.39,327.40 168.03,327.52 168.60,327.80 C169.17,328.08 171.62,329.95 172.20,330.10 C172.78,330.25 174.51,329.66 175.00,329.50 C175.49,329.34 177.12,328.25 177.60,328.30 C178.08,328.35 179.81,330.13 180.30,330.10 C180.79,330.07 182.56,328.44 183.00,328.00 C183.44,327.56 184.79,325.11 185.20,325.20 C185.60,325.29 186.97,328.32 187.50,329.00 C188.03,329.68 190.60,332.55 191.10,332.80 C191.59,333.05 192.58,331.77 193.00,331.72 C193.42,331.67 195.38,332.29 195.77,332.24 C196.17,332.19 197.13,331.14 197.44,331.14 C197.76,331.15 198.92,332.20 199.27,332.25 C199.62,332.30 201.02,331.77 201.39,331.70 C201.75,331.63 202.96,331.52 203.32,331.47 C203.68,331.43 204.98,331.19 205.37,331.19 C205.77,331.18 207.23,331.41 207.68,331.44 C208.14,331.46 209.92,331.47 210.42,331.48 C210.91,331.50 212.68,331.66 213.18,331.64 C213.69,331.62 215.62,331.30 216.03,331.28 C216.45,331.27 217.38,331.48 217.79,331.49 C218.20,331.51 220.14,331.50 220.60,331.46 C221.06,331.43 222.69,331.15 222.89,331.12" fill="none" stroke="#7c7cf4" stroke-width="0.65" stroke-linejoin="round"/>
<text x="0" y="0" font-size="4.3" fill="#1a1a1a" transform="translate(67.1,232.5) rotate(-90)">1.263</text>
<text x="0" y="0" font-size="4.3" fill="#1a1a1a" transform="translate(70.2,272.5) rotate(-90)">1.417</text>
<text x="0" y="0" font-size="4.3" fill="#1a1a1a" transform="translate(74.8,291.5) rotate(-90)">1.643</text>
<text x="0" y="0" font-size="4.3" fill="#1a1a1a" transform="translate(79.3,314.5) rotate(-90)">1.860</text>
<text x="0" y="0" font-size="4.3" fill="#1a1a1a" transform="translate(86.6,320.5) rotate(-90)">2.220</text>
<text x="0" y="0" font-size="4.3" fill="#1a1a1a" transform="translate(91.8,266.5) rotate(-90)">2.495</text>
<text x="0" y="0" font-size="4.3" fill="#1a1a1a" transform="translate(100.6,298.5) rotate(-90)">2.978</text>
<text x="0" y="0" font-size="4.3" fill="#1a1a1a" transform="translate(105.8,303.5) rotate(-90)">3.216</text>
<text x="0" y="0" font-size="4.3" fill="#1a1a1a" transform="translate(111.0,317.5) rotate(-90)">3.458</text>
<text x="0" y="0" font-size="4.3" fill="#1a1a1a" transform="translate(137.2,267.5) rotate(-90)">4.793</text>
<text x="0" y="0" font-size="4.3" fill="#1a1a1a" transform="translate(152.9,307.5) rotate(-90)">5.550</text>
<text x="0" y="0" font-size="4.3" fill="#1a1a1a" transform="translate(186.6,322.5) rotate(-90)">7.298</text>
<text x="0" y="0" font-size="4.3" fill="#1a1a1a" transform="translate(70.7,358.5) rotate(-90)">1.808</text>
<text x="162.3" y="230.3" font-size="13.3" font-weight="bold" font-style="normal" text-anchor="start" fill="#0ea54e" >Unknown</text>
<text x="178.2" y="274.4" font-size="12.2" font-weight="bold" font-style="normal" text-anchor="start" fill="#1c72c2" >ST</text>
<line x1="162.3" y1="234.8" x2="144.40259599851578" y2="248.87317237723548" stroke="#16a31c" stroke-width="2.5" />
<path d="M138.9,253.2 L142.0,245.0 L147.6,252.1 Z" fill="#16a31c"/>
<line x1="173.6" y1="271.7" x2="159.26585951305432" y2="285.36915458806675" stroke="#1a72c8" stroke-width="2.5" />
<path d="M154.2,290.2 L156.5,281.8 L162.7,288.3 Z" fill="#1a72c8"/>
<text x="118.4" y="402.7" font-size="13.5" font-weight="bold" font-style="normal" text-anchor="middle" fill="#000" >WT</text>
<text x="0" y="0" font-size="3.9" fill="#333" transform="translate(152.8,308.3) rotate(-57)">Area: 2.70587</text>
<line x1="259.1" y1="226" x2="259.1" y2="372.2" stroke="#b4b4b4" stroke-width="0.8" />
<rect x="258.5" y="226.07600000000002" width="1.2" height="1.2" fill="#555" stroke="none" stroke-width="0" />
<rect x="258.5" y="230.133" width="1.2" height="1.2" fill="#555" stroke="none" stroke-width="0" />
<rect x="258.5" y="234.19" width="1.2" height="1.2" fill="#555" stroke="none" stroke-width="0" />
<rect x="258.5" y="238.24699999999999" width="1.2" height="1.2" fill="#555" stroke="none" stroke-width="0" />
<rect x="258.5" y="242.30399999999997" width="1.2" height="1.2" fill="#555" stroke="none" stroke-width="0" />
<rect x="258.5" y="246.36099999999996" width="1.2" height="1.2" fill="#555" stroke="none" stroke-width="0" />
<rect x="258.5" y="250.41799999999995" width="1.2" height="1.2" fill="#555" stroke="none" stroke-width="0" />
<rect x="258.5" y="254.47499999999994" width="1.2" height="1.2" fill="#555" stroke="none" stroke-width="0" />
<rect x="258.5" y="258.5319999999999" width="1.2" height="1.2" fill="#555" stroke="none" stroke-width="0" />
<rect x="258.5" y="262.58899999999994" width="1.2" height="1.2" fill="#555" stroke="none" stroke-width="0" />
<rect x="258.5" y="266.64599999999996" width="1.2" height="1.2" fill="#555" stroke="none" stroke-width="0" />
<rect x="258.5" y="270.703" width="1.2" height="1.2" fill="#555" stroke="none" stroke-width="0" />
<rect x="258.5" y="274.76" width="1.2" height="1.2" fill="#555" stroke="none" stroke-width="0" />
<rect x="258.5" y="278.817" width="1.2" height="1.2" fill="#555" stroke="none" stroke-width="0" />
<rect x="258.5" y="282.874" width="1.2" height="1.2" fill="#555" stroke="none" stroke-width="0" />
<rect x="258.5" y="286.93100000000004" width="1.2" height="1.2" fill="#555" stroke="none" stroke-width="0" />
<rect x="258.5" y="290.98800000000006" width="1.2" height="1.2" fill="#555" stroke="none" stroke-width="0" />
<rect x="258.5" y="295.0450000000001" width="1.2" height="1.2" fill="#555" stroke="none" stroke-width="0" />
<rect x="258.5" y="299.1020000000001" width="1.2" height="1.2" fill="#555" stroke="none" stroke-width="0" />
<rect x="258.5" y="303.1590000000001" width="1.2" height="1.2" fill="#555" stroke="none" stroke-width="0" />
<rect x="258.5" y="307.2160000000001" width="1.2" height="1.2" fill="#555" stroke="none" stroke-width="0" />
<rect x="258.5" y="311.27300000000014" width="1.2" height="1.2" fill="#555" stroke="none" stroke-width="0" />
<rect x="258.5" y="315.33000000000015" width="1.2" height="1.2" fill="#555" stroke="none" stroke-width="0" />
<rect x="258.5" y="319.38700000000017" width="1.2" height="1.2" fill="#555" stroke="none" stroke-width="0" />
<rect x="258.5" y="323.4440000000002" width="1.2" height="1.2" fill="#555" stroke="none" stroke-width="0" />
<rect x="258.5" y="327.5010000000002" width="1.2" height="1.2" fill="#555" stroke="none" stroke-width="0" />
<rect x="258.5" y="331.5580000000002" width="1.2" height="1.2" fill="#555" stroke="none" stroke-width="0" />
<rect x="258.5" y="335.61500000000024" width="1.2" height="1.2" fill="#555" stroke="none" stroke-width="0" />
<rect x="258.5" y="339.67200000000025" width="1.2" height="1.2" fill="#555" stroke="none" stroke-width="0" />
<rect x="258.5" y="343.72900000000027" width="1.2" height="1.2" fill="#555" stroke="none" stroke-width="0" />
<rect x="258.5" y="347.7860000000003" width="1.2" height="1.2" fill="#555" stroke="none" stroke-width="0" />
<rect x="258.5" y="351.8430000000003" width="1.2" height="1.2" fill="#555" stroke="none" stroke-width="0" />
<rect x="258.5" y="355.9000000000003" width="1.2" height="1.2" fill="#555" stroke="none" stroke-width="0" />
<rect x="258.5" y="359.95700000000033" width="1.2" height="1.2" fill="#555" stroke="none" stroke-width="0" />
<rect x="258.5" y="364.01400000000035" width="1.2" height="1.2" fill="#555" stroke="none" stroke-width="0" />
<rect x="258.5" y="368.07100000000037" width="1.2" height="1.2" fill="#555" stroke="none" stroke-width="0" />
<text x="253.10000000000002" y="240.79" font-size="11.3" font-weight="normal" font-style="normal" text-anchor="end" fill="#222" >3</text>
<line x1="256.6" y1="234.79" x2="259.1" y2="234.79" stroke="#a0a8c0" stroke-width="0.8" />
<text x="253.10000000000002" y="261.075" font-size="11.3" font-weight="normal" font-style="normal" text-anchor="end" fill="#222" >2.5</text>
<line x1="256.6" y1="255.075" x2="259.1" y2="255.075" stroke="#a0a8c0" stroke-width="0.8" />
<text x="253.10000000000002" y="281.36" font-size="11.3" font-weight="normal" font-style="normal" text-anchor="end" fill="#222" >2</text>
<line x1="256.6" y1="275.36" x2="259.1" y2="275.36" stroke="#a0a8c0" stroke-width="0.8" />
<text x="253.10000000000002" y="301.645" font-size="11.3" font-weight="normal" font-style="normal" text-anchor="end" fill="#222" >1.5</text>
<line x1="256.6" y1="295.645" x2="259.1" y2="295.645" stroke="#a0a8c0" stroke-width="0.8" />
<text x="253.10000000000002" y="321.93" font-size="11.3" font-weight="normal" font-style="normal" text-anchor="end" fill="#222" >1</text>
<line x1="256.6" y1="315.93" x2="259.1" y2="315.93" stroke="#a0a8c0" stroke-width="0.8" />
<text x="253.10000000000002" y="342.215" font-size="11.3" font-weight="normal" font-style="normal" text-anchor="end" fill="#222" >0.5</text>
<line x1="256.6" y1="336.215" x2="259.1" y2="336.215" stroke="#a0a8c0" stroke-width="0.8" />
<text x="253.10000000000002" y="362.5" font-size="11.3" font-weight="normal" font-style="normal" text-anchor="end" fill="#222" >0</text>
<line x1="256.6" y1="356.5" x2="259.1" y2="356.5" stroke="#a0a8c0" stroke-width="0.8" />
<line x1="259.1" y1="372.2" x2="444.5" y2="372.2" stroke="#8a8a8a" stroke-width="0.9" />
<line x1="259.40000000000003" y1="372.2" x2="259.40000000000003" y2="373.8" stroke="#9a9a9a" stroke-width="0.7" />
<line x1="263.48" y1="372.2" x2="263.48" y2="373.8" stroke="#9a9a9a" stroke-width="0.7" />
<line x1="267.56" y1="372.2" x2="267.56" y2="373.8" stroke="#9a9a9a" stroke-width="0.7" />
<line x1="271.64" y1="372.2" x2="271.64" y2="373.8" stroke="#9a9a9a" stroke-width="0.7" />
<line x1="275.71999999999997" y1="372.2" x2="275.71999999999997" y2="373.8" stroke="#9a9a9a" stroke-width="0.7" />
<line x1="279.79999999999995" y1="372.2" x2="279.79999999999995" y2="373.8" stroke="#9a9a9a" stroke-width="0.7" />
<line x1="283.87999999999994" y1="372.2" x2="283.87999999999994" y2="373.8" stroke="#9a9a9a" stroke-width="0.7" />
<line x1="287.9599999999999" y1="372.2" x2="287.9599999999999" y2="373.8" stroke="#9a9a9a" stroke-width="0.7" />
<line x1="292.0399999999999" y1="372.2" x2="292.0399999999999" y2="373.8" stroke="#9a9a9a" stroke-width="0.7" />
<line x1="296.1199999999999" y1="372.2" x2="296.1199999999999" y2="373.8" stroke="#9a9a9a" stroke-width="0.7" />
<line x1="300.1999999999999" y1="372.2" x2="300.1999999999999" y2="373.8" stroke="#9a9a9a" stroke-width="0.7" />
<line x1="304.27999999999986" y1="372.2" x2="304.27999999999986" y2="373.8" stroke="#9a9a9a" stroke-width="0.7" />
<line x1="308.35999999999984" y1="372.2" x2="308.35999999999984" y2="373.8" stroke="#9a9a9a" stroke-width="0.7" />
<line x1="312.4399999999998" y1="372.2" x2="312.4399999999998" y2="373.8" stroke="#9a9a9a" stroke-width="0.7" />
<line x1="316.5199999999998" y1="372.2" x2="316.5199999999998" y2="373.8" stroke="#9a9a9a" stroke-width="0.7" />
<line x1="320.5999999999998" y1="372.2" x2="320.5999999999998" y2="373.8" stroke="#9a9a9a" stroke-width="0.7" />
<line x1="324.6799999999998" y1="372.2" x2="324.6799999999998" y2="373.8" stroke="#9a9a9a" stroke-width="0.7" />
<line x1="328.75999999999976" y1="372.2" x2="328.75999999999976" y2="373.8" stroke="#9a9a9a" stroke-width="0.7" />
<line x1="332.83999999999975" y1="372.2" x2="332.83999999999975" y2="373.8" stroke="#9a9a9a" stroke-width="0.7" />
<line x1="336.91999999999973" y1="372.2" x2="336.91999999999973" y2="373.8" stroke="#9a9a9a" stroke-width="0.7" />
<line x1="340.9999999999997" y1="372.2" x2="340.9999999999997" y2="373.8" stroke="#9a9a9a" stroke-width="0.7" />
<line x1="345.0799999999997" y1="372.2" x2="345.0799999999997" y2="373.8" stroke="#9a9a9a" stroke-width="0.7" />
<line x1="349.1599999999997" y1="372.2" x2="349.1599999999997" y2="373.8" stroke="#9a9a9a" stroke-width="0.7" />
<line x1="353.23999999999967" y1="372.2" x2="353.23999999999967" y2="373.8" stroke="#9a9a9a" stroke-width="0.7" />
<line x1="357.31999999999965" y1="372.2" x2="357.31999999999965" y2="373.8" stroke="#9a9a9a" stroke-width="0.7" />
<line x1="361.39999999999964" y1="372.2" x2="361.39999999999964" y2="373.8" stroke="#9a9a9a" stroke-width="0.7" />
<line x1="365.4799999999996" y1="372.2" x2="365.4799999999996" y2="373.8" stroke="#9a9a9a" stroke-width="0.7" />
<line x1="369.5599999999996" y1="372.2" x2="369.5599999999996" y2="373.8" stroke="#9a9a9a" stroke-width="0.7" />
<line x1="373.6399999999996" y1="372.2" x2="373.6399999999996" y2="373.8" stroke="#9a9a9a" stroke-width="0.7" />
<line x1="377.7199999999996" y1="372.2" x2="377.7199999999996" y2="373.8" stroke="#9a9a9a" stroke-width="0.7" />
<line x1="381.79999999999956" y1="372.2" x2="381.79999999999956" y2="373.8" stroke="#9a9a9a" stroke-width="0.7" />
<line x1="385.87999999999954" y1="372.2" x2="385.87999999999954" y2="373.8" stroke="#9a9a9a" stroke-width="0.7" />
<line x1="389.9599999999995" y1="372.2" x2="389.9599999999995" y2="373.8" stroke="#9a9a9a" stroke-width="0.7" />
<line x1="394.0399999999995" y1="372.2" x2="394.0399999999995" y2="373.8" stroke="#9a9a9a" stroke-width="0.7" />
<line x1="398.1199999999995" y1="372.2" x2="398.1199999999995" y2="373.8" stroke="#9a9a9a" stroke-width="0.7" />
<line x1="402.1999999999995" y1="372.2" x2="402.1999999999995" y2="373.8" stroke="#9a9a9a" stroke-width="0.7" />
<line x1="406.27999999999946" y1="372.2" x2="406.27999999999946" y2="373.8" stroke="#9a9a9a" stroke-width="0.7" />
<line x1="410.35999999999945" y1="372.2" x2="410.35999999999945" y2="373.8" stroke="#9a9a9a" stroke-width="0.7" />
<line x1="414.43999999999943" y1="372.2" x2="414.43999999999943" y2="373.8" stroke="#9a9a9a" stroke-width="0.7" />
<line x1="418.5199999999994" y1="372.2" x2="418.5199999999994" y2="373.8" stroke="#9a9a9a" stroke-width="0.7" />
<line x1="422.5999999999994" y1="372.2" x2="422.5999999999994" y2="373.8" stroke="#9a9a9a" stroke-width="0.7" />
<line x1="426.6799999999994" y1="372.2" x2="426.6799999999994" y2="373.8" stroke="#9a9a9a" stroke-width="0.7" />
<line x1="430.75999999999937" y1="372.2" x2="430.75999999999937" y2="373.8" stroke="#9a9a9a" stroke-width="0.7" />
<line x1="434.83999999999935" y1="372.2" x2="434.83999999999935" y2="373.8" stroke="#9a9a9a" stroke-width="0.7" />
<line x1="438.91999999999933" y1="372.2" x2="438.91999999999933" y2="373.8" stroke="#9a9a9a" stroke-width="0.7" />
<line x1="442.9999999999993" y1="372.2" x2="442.9999999999993" y2="373.8" stroke="#9a9a9a" stroke-width="0.7" />
<line x1="279.8" y1="372.2" x2="279.8" y2="374.2" stroke="#777" stroke-width="0.8" />
<line x1="279.8" y1="374.2" x2="279.8" y2="379.5" stroke="#c4c4c4" stroke-width="0.7" />
<rect x="279.3" y="376.2" width="1.0" height="2.4" fill="#8a8a8a" stroke="none" stroke-width="0" />
<line x1="300.2" y1="372.2" x2="300.2" y2="374.2" stroke="#777" stroke-width="0.8" />
<line x1="300.2" y1="374.2" x2="300.2" y2="379.5" stroke="#c4c4c4" stroke-width="0.7" />
<rect x="299.7" y="376.2" width="1.0" height="2.4" fill="#8a8a8a" stroke="none" stroke-width="0" />
<line x1="320.6" y1="372.2" x2="320.6" y2="374.2" stroke="#777" stroke-width="0.8" />
<line x1="320.6" y1="374.2" x2="320.6" y2="379.5" stroke="#c4c4c4" stroke-width="0.7" />
<rect x="320.1" y="376.2" width="1.0" height="2.4" fill="#8a8a8a" stroke="none" stroke-width="0" />
<line x1="341.0" y1="372.2" x2="341.0" y2="374.2" stroke="#777" stroke-width="0.8" />
<line x1="341.0" y1="374.2" x2="341.0" y2="379.5" stroke="#c4c4c4" stroke-width="0.7" />
<rect x="340.5" y="376.2" width="1.0" height="2.4" fill="#8a8a8a" stroke="none" stroke-width="0" />
<line x1="361.4" y1="372.2" x2="361.4" y2="374.2" stroke="#777" stroke-width="0.8" />
<line x1="361.4" y1="374.2" x2="361.4" y2="379.5" stroke="#c4c4c4" stroke-width="0.7" />
<rect x="360.9" y="376.2" width="1.0" height="2.4" fill="#8a8a8a" stroke="none" stroke-width="0" />
<line x1="381.8" y1="372.2" x2="381.8" y2="374.2" stroke="#777" stroke-width="0.8" />
<line x1="381.8" y1="374.2" x2="381.8" y2="379.5" stroke="#c4c4c4" stroke-width="0.7" />
<rect x="381.3" y="376.2" width="1.0" height="2.4" fill="#8a8a8a" stroke="none" stroke-width="0" />
<line x1="402.2" y1="372.2" x2="402.2" y2="374.2" stroke="#777" stroke-width="0.8" />
<line x1="402.2" y1="374.2" x2="402.2" y2="379.5" stroke="#c4c4c4" stroke-width="0.7" />
<rect x="401.7" y="376.2" width="1.0" height="2.4" fill="#8a8a8a" stroke="none" stroke-width="0" />
<line x1="422.6" y1="372.2" x2="422.6" y2="374.2" stroke="#777" stroke-width="0.8" />
<line x1="422.6" y1="374.2" x2="422.6" y2="379.5" stroke="#c4c4c4" stroke-width="0.7" />
<rect x="422.1" y="376.2" width="1.0" height="2.4" fill="#8a8a8a" stroke="none" stroke-width="0" />
<line x1="443.0" y1="372.2" x2="443.0" y2="374.2" stroke="#777" stroke-width="0.8" />
<line x1="443.0" y1="374.2" x2="443.0" y2="379.5" stroke="#c4c4c4" stroke-width="0.7" />
<rect x="442.5" y="376.2" width="1.0" height="2.4" fill="#8a8a8a" stroke="none" stroke-width="0" />
<line x1="250.6" y1="379.5" x2="444.5" y2="379.5" stroke="#8a8a8a" stroke-width="0.9" />
<rect x="232.7" y="213" width="214.90000000000003" height="171.5" fill="none" stroke="#1a1a1a" stroke-width="1.5" />
<text x="234.2" y="223.8" font-size="11.6" font-weight="normal" font-style="normal" text-anchor="start" fill="#111" >mAU</text>
<path d="M280.0,356.0 L289.6,365.5 L297.5,354.8 L300.0,353.0 L360.0,352.5 L446.0,350.5" fill="none" stroke="#f27af0" stroke-width="0.7"/>
<path d="M287.6,339.8 L287.6,364.0" fill="none" stroke="#f27af0" stroke-width="0.7"/>
<path d="M293.0,341.2 L293.0,361.0" fill="none" stroke="#f27af0" stroke-width="0.7"/>
<path d="M295.0,356.0 L295.0,358.0" fill="none" stroke="#f27af0" stroke-width="0.7"/>
<path d="M353.5,347.0 L353.5,352.6" fill="none" stroke="#f27af0" stroke-width="0.7"/>
<path d="M259.20,356.40 C259.41,356.34 261.14,355.72 261.50,355.72 C261.85,355.72 262.72,356.41 263.12,356.39 C263.52,356.36 265.48,355.49 265.97,355.44 C266.46,355.39 268.17,355.78 268.56,355.80 C268.95,355.82 269.92,355.60 270.30,355.65 C270.69,355.69 272.48,356.28 272.86,356.32 C273.23,356.35 274.17,356.01 274.46,355.99 C274.74,355.97 275.73,356.07 276.06,356.10 C276.38,356.13 277.68,356.29 278.03,356.28 C278.39,356.27 279.60,357.01 280.00,356.00 C280.40,354.99 282.00,348.52 282.50,345.00 C283.00,341.48 285.11,317.80 285.50,316.90 C285.89,316.00 286.61,332.94 286.80,335.00 C286.99,337.06 287.44,338.27 287.60,339.80 C287.76,341.33 288.42,349.69 288.60,352.00 C288.78,354.31 289.36,365.50 289.60,365.50 C289.84,365.50 290.99,354.19 291.30,352.00 C291.61,349.81 292.67,340.84 293.00,341.20 C293.33,341.56 294.69,354.94 295.00,356.00 C295.31,357.06 296.23,353.54 296.50,353.00 C296.77,352.46 297.69,350.05 298.00,350.00 C298.31,349.95 299.55,352.27 300.00,352.50 C300.45,352.73 302.50,352.63 303.00,352.50 C303.50,352.37 305.10,351.31 305.50,351.00 C305.90,350.69 307.17,350.44 307.50,349.00 C307.83,347.56 308.90,337.79 309.20,335.00 C309.50,332.21 310.50,317.55 310.80,318.00 C311.10,318.45 312.21,336.99 312.50,340.00 C312.79,343.01 313.50,350.42 314.00,351.50 C314.50,352.58 317.46,352.95 318.00,352.00 C318.54,351.05 319.60,341.08 320.00,340.90 C320.40,340.72 321.98,350.06 322.40,350.00 C322.82,349.94 324.25,340.06 324.70,340.20 C325.15,340.33 326.99,350.60 327.40,351.50 C327.81,352.40 328.89,350.11 329.30,350.20 C329.71,350.29 331.40,352.21 332.00,352.50 C332.60,352.79 335.37,353.22 336.00,353.40 C336.63,353.58 338.28,354.49 339.00,354.50 C339.72,354.51 343.01,353.63 344.00,353.50 C344.99,353.37 349.26,353.40 350.00,353.00 C350.74,352.60 351.88,349.54 352.20,349.00 C352.51,348.46 353.23,351.41 353.50,347.00 C353.77,342.59 354.88,310.14 355.20,300.00 C355.52,289.86 356.76,234.30 357.10,234.30 C357.44,234.30 358.65,290.04 359.00,300.00 C359.35,309.96 360.55,340.41 361.00,345.00 C361.45,349.59 363.37,350.43 364.00,351.00 C364.63,351.57 367.46,352.29 368.00,351.30 C368.54,350.31 369.55,343.72 370.00,340.00 C370.45,336.28 372.50,311.35 373.00,310.00 C373.50,308.65 375.05,321.85 375.50,325.00 C375.95,328.15 377.50,342.75 378.00,345.00 C378.50,347.25 380.50,349.50 381.00,350.00 C381.50,350.50 383.10,350.68 383.50,350.50 C383.90,350.32 385.14,347.95 385.50,348.00 C385.86,348.05 387.19,350.71 387.50,351.00 C387.81,351.29 388.61,351.21 389.00,351.21 C389.39,351.20 391.45,350.96 391.86,350.97 C392.26,350.98 393.21,351.33 393.50,351.32 C393.79,351.31 394.75,350.84 395.08,350.84 C395.41,350.84 396.69,351.50 397.16,351.33 C397.63,351.17 399.82,349.00 400.30,349.00 C400.78,349.00 401.90,351.12 402.50,351.30 C403.10,351.48 406.42,351.21 407.00,351.00 C407.58,350.79 408.64,348.95 409.00,349.00 C409.36,349.05 410.64,351.32 411.00,351.50 C411.36,351.68 412.58,350.97 413.00,350.95 C413.42,350.93 415.19,351.16 415.69,351.25 C416.18,351.34 418.05,351.91 418.49,351.93 C418.93,351.94 420.15,351.42 420.53,351.39 C420.91,351.35 422.35,351.58 422.76,351.59 C423.17,351.59 424.66,351.43 425.08,351.46 C425.50,351.49 427.03,351.92 427.44,351.90 C427.85,351.88 429.23,351.35 429.65,351.27 C430.07,351.19 431.74,350.96 432.14,351.01 C432.54,351.07 433.70,351.85 434.08,351.88 C434.45,351.91 435.97,351.41 436.31,351.35 C436.65,351.29 437.51,351.24 437.86,351.18 C438.21,351.12 439.75,350.66 440.17,350.68 C440.59,350.70 442.16,351.33 442.52,351.39 C442.88,351.46 443.80,351.37 444.14,351.37 C444.48,351.38 446.10,351.41 446.29,351.42" fill="none" stroke="#7c7cf4" stroke-width="0.65" stroke-linejoin="round"/>
<text x="0" y="0" font-size="4.3" fill="#1a1a1a" transform="translate(286.9,314.5) rotate(-90)">1.282</text>
<text x="0" y="0" font-size="4.3" fill="#1a1a1a" transform="translate(289.0,337.5) rotate(-90)">1.387</text>
<text x="0" y="0" font-size="4.3" fill="#1a1a1a" transform="translate(294.4,338.5) rotate(-90)">1.598</text>
<text x="0" y="0" font-size="4.3" fill="#1a1a1a" transform="translate(299.4,347.5) rotate(-90)">1.880</text>
<text x="0" y="0" font-size="4.3" fill="#1a1a1a" transform="translate(308.9,346.5) rotate(-90)">2.330</text>
<text x="0" y="0" font-size="4.3" fill="#1a1a1a" transform="translate(312.2,315.5) rotate(-90)">2.426</text>
<text x="0" y="0" font-size="4.3" fill="#1a1a1a" transform="translate(321.4,338.5) rotate(-90)">2.979</text>
<text x="0" y="0" font-size="4.3" fill="#1a1a1a" transform="translate(326.1,337.5) rotate(-90)">3.211</text>
<text x="0" y="0" font-size="4.3" fill="#1a1a1a" transform="translate(330.7,347.5) rotate(-90)">3.454</text>
<text x="0" y="0" font-size="4.3" fill="#1a1a1a" transform="translate(354.9,344.5) rotate(-90)">4.587</text>
<text x="0" y="0" font-size="4.3" fill="#1a1a1a" transform="translate(358.5,231.5) rotate(-90)">4.799</text>
<text x="0" y="0" font-size="4.3" fill="#1a1a1a" transform="translate(374.4,307.5) rotate(-90)">5.550</text>
<text x="0" y="0" font-size="4.3" fill="#1a1a1a" transform="translate(386.9,345.5) rotate(-90)">6.193</text>
<text x="0" y="0" font-size="4.3" fill="#1a1a1a" transform="translate(401.7,346.5) rotate(-90)">6.936</text>
<text x="0" y="0" font-size="4.3" fill="#1a1a1a" transform="translate(410.4,346.5) rotate(-90)">7.304</text>
<text x="0" y="0" font-size="4.3" fill="#1a1a1a" transform="translate(291.2,362.5) rotate(-90)">1.502</text>
<line x1="385.4" y1="222.2" x2="367.3665675791872" y2="231.88738105250275" stroke="#16a31c" stroke-width="2.5" />
<path d="M361.2,235.2 L365.7,227.7 L369.9,235.6 Z" fill="#16a31c"/>
<line x1="390.9" y1="276.2" x2="378.1752922813778" y2="287.2987728434649" stroke="#1a72c8" stroke-width="2.5" />
<path d="M372.9,291.9 L375.6,283.6 L381.5,290.4 Z" fill="#1a72c8"/>
<text x="336.6" y="402.7" font-size="13.4" font-weight="bold" font-style="normal" text-anchor="middle" fill="#000" ><tspan font-weight="normal" font-style="normal">Δ</tspan><tspan font-style="italic" letter-spacing="0.60">mcrA</tspan></text>
<text x="0" y="0" font-size="3.5" fill="#6a7aa0" transform="translate(253,229)">mAU</text>
<line x1="482.7" y1="226" x2="482.7" y2="371.9" stroke="#b4b4b4" stroke-width="0.8" />
<rect x="482.09999999999997" y="225.675" width="1.2" height="1.2" fill="#555" stroke="none" stroke-width="0" />
<rect x="482.09999999999997" y="230.4" width="1.2" height="1.2" fill="#555" stroke="none" stroke-width="0" />
<rect x="482.09999999999997" y="235.125" width="1.2" height="1.2" fill="#555" stroke="none" stroke-width="0" />
<rect x="482.09999999999997" y="239.85" width="1.2" height="1.2" fill="#555" stroke="none" stroke-width="0" />
<rect x="482.09999999999997" y="244.575" width="1.2" height="1.2" fill="#555" stroke="none" stroke-width="0" />
<rect x="482.09999999999997" y="249.29999999999998" width="1.2" height="1.2" fill="#555" stroke="none" stroke-width="0" />
<rect x="482.09999999999997" y="254.02499999999998" width="1.2" height="1.2" fill="#555" stroke="none" stroke-width="0" />
<rect x="482.09999999999997" y="258.74999999999994" width="1.2" height="1.2" fill="#555" stroke="none" stroke-width="0" />
<rect x="482.09999999999997" y="263.4749999999999" width="1.2" height="1.2" fill="#555" stroke="none" stroke-width="0" />
<rect x="482.09999999999997" y="268.19999999999993" width="1.2" height="1.2" fill="#555" stroke="none" stroke-width="0" />
<rect x="482.09999999999997" y="272.92499999999995" width="1.2" height="1.2" fill="#555" stroke="none" stroke-width="0" />
<rect x="482.09999999999997" y="277.65" width="1.2" height="1.2" fill="#555" stroke="none" stroke-width="0" />
<rect x="482.09999999999997" y="282.375" width="1.2" height="1.2" fill="#555" stroke="none" stroke-width="0" />
<rect x="482.09999999999997" y="287.1" width="1.2" height="1.2" fill="#555" stroke="none" stroke-width="0" />
<rect x="482.09999999999997" y="291.82500000000005" width="1.2" height="1.2" fill="#555" stroke="none" stroke-width="0" />
<rect x="482.09999999999997" y="296.55000000000007" width="1.2" height="1.2" fill="#555" stroke="none" stroke-width="0" />
<rect x="482.09999999999997" y="301.2750000000001" width="1.2" height="1.2" fill="#555" stroke="none" stroke-width="0" />
<rect x="482.09999999999997" y="306.0000000000001" width="1.2" height="1.2" fill="#555" stroke="none" stroke-width="0" />
<rect x="482.09999999999997" y="310.72500000000014" width="1.2" height="1.2" fill="#555" stroke="none" stroke-width="0" />
<rect x="482.09999999999997" y="315.45000000000016" width="1.2" height="1.2" fill="#555" stroke="none" stroke-width="0" />
<rect x="482.09999999999997" y="320.1750000000002" width="1.2" height="1.2" fill="#555" stroke="none" stroke-width="0" />
<rect x="482.09999999999997" y="324.9000000000002" width="1.2" height="1.2" fill="#555" stroke="none" stroke-width="0" />
<rect x="482.09999999999997" y="329.6250000000002" width="1.2" height="1.2" fill="#555" stroke="none" stroke-width="0" />
<rect x="482.09999999999997" y="334.35000000000025" width="1.2" height="1.2" fill="#555" stroke="none" stroke-width="0" />
<rect x="482.09999999999997" y="339.0750000000003" width="1.2" height="1.2" fill="#555" stroke="none" stroke-width="0" />
<rect x="482.09999999999997" y="343.8000000000003" width="1.2" height="1.2" fill="#555" stroke="none" stroke-width="0" />
<rect x="482.09999999999997" y="348.5250000000003" width="1.2" height="1.2" fill="#555" stroke="none" stroke-width="0" />
<rect x="482.09999999999997" y="353.25000000000034" width="1.2" height="1.2" fill="#555" stroke="none" stroke-width="0" />
<rect x="482.09999999999997" y="357.97500000000036" width="1.2" height="1.2" fill="#555" stroke="none" stroke-width="0" />
<rect x="482.09999999999997" y="362.7000000000004" width="1.2" height="1.2" fill="#555" stroke="none" stroke-width="0" />
<rect x="482.09999999999997" y="367.4250000000004" width="1.2" height="1.2" fill="#555" stroke="none" stroke-width="0" />
<text x="477.7" y="252.29999999999998" font-size="11.3" font-weight="normal" font-style="normal" text-anchor="end" fill="#222" >1</text>
<line x1="480.2" y1="249.89999999999998" x2="482.7" y2="249.89999999999998" stroke="#a0a8c0" stroke-width="0.8" />
<text x="477.7" y="271.19999999999993" font-size="11.3" font-weight="normal" font-style="normal" text-anchor="end" fill="#222" >0.8</text>
<line x1="480.2" y1="268.79999999999995" x2="482.7" y2="268.79999999999995" stroke="#a0a8c0" stroke-width="0.8" />
<text x="477.7" y="290.09999999999997" font-size="11.3" font-weight="normal" font-style="normal" text-anchor="end" fill="#222" >0.6</text>
<line x1="480.2" y1="287.7" x2="482.7" y2="287.7" stroke="#a0a8c0" stroke-width="0.8" />
<text x="477.7" y="308.99999999999994" font-size="11.3" font-weight="normal" font-style="normal" text-anchor="end" fill="#222" >0.4</text>
<line x1="480.2" y1="306.59999999999997" x2="482.7" y2="306.59999999999997" stroke="#a0a8c0" stroke-width="0.8" />
<text x="477.7" y="327.9" font-size="11.3" font-weight="normal" font-style="normal" text-anchor="end" fill="#222" >0.2</text>
<line x1="480.2" y1="325.5" x2="482.7" y2="325.5" stroke="#a0a8c0" stroke-width="0.8" />
<text x="477.7" y="346.79999999999995" font-size="11.3" font-weight="normal" font-style="normal" text-anchor="end" fill="#222" >0</text>
<line x1="480.2" y1="344.4" x2="482.7" y2="344.4" stroke="#a0a8c0" stroke-width="0.8" />
<text x="477.7" y="365.69999999999993" font-size="11.3" font-weight="normal" font-style="normal" text-anchor="end" fill="#222" >−0.2</text>
<line x1="480.2" y1="363.29999999999995" x2="482.7" y2="363.29999999999995" stroke="#a0a8c0" stroke-width="0.8" />
<line x1="482.7" y1="371.9" x2="662.6" y2="371.9" stroke="#8a8a8a" stroke-width="0.9" />
<line x1="483.0" y1="371.9" x2="483.0" y2="373.5" stroke="#9a9a9a" stroke-width="0.7" />
<line x1="486.8" y1="371.9" x2="486.8" y2="373.5" stroke="#9a9a9a" stroke-width="0.7" />
<line x1="490.6" y1="371.9" x2="490.6" y2="373.5" stroke="#9a9a9a" stroke-width="0.7" />
<line x1="494.40000000000003" y1="371.9" x2="494.40000000000003" y2="373.5" stroke="#9a9a9a" stroke-width="0.7" />
<line x1="498.20000000000005" y1="371.9" x2="498.20000000000005" y2="373.5" stroke="#9a9a9a" stroke-width="0.7" />
<line x1="502.00000000000006" y1="371.9" x2="502.00000000000006" y2="373.5" stroke="#9a9a9a" stroke-width="0.7" />
<line x1="505.80000000000007" y1="371.9" x2="505.80000000000007" y2="373.5" stroke="#9a9a9a" stroke-width="0.7" />
<line x1="509.6000000000001" y1="371.9" x2="509.6000000000001" y2="373.5" stroke="#9a9a9a" stroke-width="0.7" />
<line x1="513.4000000000001" y1="371.9" x2="513.4000000000001" y2="373.5" stroke="#9a9a9a" stroke-width="0.7" />
<line x1="517.2" y1="371.9" x2="517.2" y2="373.5" stroke="#9a9a9a" stroke-width="0.7" />
<line x1="521.0" y1="371.9" x2="521.0" y2="373.5" stroke="#9a9a9a" stroke-width="0.7" />
<line x1="524.8" y1="371.9" x2="524.8" y2="373.5" stroke="#9a9a9a" stroke-width="0.7" />
<line x1="528.5999999999999" y1="371.9" x2="528.5999999999999" y2="373.5" stroke="#9a9a9a" stroke-width="0.7" />
<line x1="532.3999999999999" y1="371.9" x2="532.3999999999999" y2="373.5" stroke="#9a9a9a" stroke-width="0.7" />
<line x1="536.1999999999998" y1="371.9" x2="536.1999999999998" y2="373.5" stroke="#9a9a9a" stroke-width="0.7" />
<line x1="539.9999999999998" y1="371.9" x2="539.9999999999998" y2="373.5" stroke="#9a9a9a" stroke-width="0.7" />
<line x1="543.7999999999997" y1="371.9" x2="543.7999999999997" y2="373.5" stroke="#9a9a9a" stroke-width="0.7" />
<line x1="547.5999999999997" y1="371.9" x2="547.5999999999997" y2="373.5" stroke="#9a9a9a" stroke-width="0.7" />
<line x1="551.3999999999996" y1="371.9" x2="551.3999999999996" y2="373.5" stroke="#9a9a9a" stroke-width="0.7" />
<line x1="555.1999999999996" y1="371.9" x2="555.1999999999996" y2="373.5" stroke="#9a9a9a" stroke-width="0.7" />
<line x1="558.9999999999995" y1="371.9" x2="558.9999999999995" y2="373.5" stroke="#9a9a9a" stroke-width="0.7" />
<line x1="562.7999999999995" y1="371.9" x2="562.7999999999995" y2="373.5" stroke="#9a9a9a" stroke-width="0.7" />
<line x1="566.5999999999995" y1="371.9" x2="566.5999999999995" y2="373.5" stroke="#9a9a9a" stroke-width="0.7" />
<line x1="570.3999999999994" y1="371.9" x2="570.3999999999994" y2="373.5" stroke="#9a9a9a" stroke-width="0.7" />
<line x1="574.1999999999994" y1="371.9" x2="574.1999999999994" y2="373.5" stroke="#9a9a9a" stroke-width="0.7" />
<line x1="577.9999999999993" y1="371.9" x2="577.9999999999993" y2="373.5" stroke="#9a9a9a" stroke-width="0.7" />
<line x1="581.7999999999993" y1="371.9" x2="581.7999999999993" y2="373.5" stroke="#9a9a9a" stroke-width="0.7" />
<line x1="585.5999999999992" y1="371.9" x2="585.5999999999992" y2="373.5" stroke="#9a9a9a" stroke-width="0.7" />
<line x1="589.3999999999992" y1="371.9" x2="589.3999999999992" y2="373.5" stroke="#9a9a9a" stroke-width="0.7" />
<line x1="593.1999999999991" y1="371.9" x2="593.1999999999991" y2="373.5" stroke="#9a9a9a" stroke-width="0.7" />
<line x1="596.9999999999991" y1="371.9" x2="596.9999999999991" y2="373.5" stroke="#9a9a9a" stroke-width="0.7" />
<line x1="600.799999999999" y1="371.9" x2="600.799999999999" y2="373.5" stroke="#9a9a9a" stroke-width="0.7" />
<line x1="604.599999999999" y1="371.9" x2="604.599999999999" y2="373.5" stroke="#9a9a9a" stroke-width="0.7" />
<line x1="608.399999999999" y1="371.9" x2="608.399999999999" y2="373.5" stroke="#9a9a9a" stroke-width="0.7" />
<line x1="612.1999999999989" y1="371.9" x2="612.1999999999989" y2="373.5" stroke="#9a9a9a" stroke-width="0.7" />
<line x1="615.9999999999989" y1="371.9" x2="615.9999999999989" y2="373.5" stroke="#9a9a9a" stroke-width="0.7" />
<line x1="619.7999999999988" y1="371.9" x2="619.7999999999988" y2="373.5" stroke="#9a9a9a" stroke-width="0.7" />
<line x1="623.5999999999988" y1="371.9" x2="623.5999999999988" y2="373.5" stroke="#9a9a9a" stroke-width="0.7" />
<line x1="627.3999999999987" y1="371.9" x2="627.3999999999987" y2="373.5" stroke="#9a9a9a" stroke-width="0.7" />
<line x1="631.1999999999987" y1="371.9" x2="631.1999999999987" y2="373.5" stroke="#9a9a9a" stroke-width="0.7" />
<line x1="634.9999999999986" y1="371.9" x2="634.9999999999986" y2="373.5" stroke="#9a9a9a" stroke-width="0.7" />
<line x1="638.7999999999986" y1="371.9" x2="638.7999999999986" y2="373.5" stroke="#9a9a9a" stroke-width="0.7" />
<line x1="642.5999999999985" y1="371.9" x2="642.5999999999985" y2="373.5" stroke="#9a9a9a" stroke-width="0.7" />
<line x1="646.3999999999985" y1="371.9" x2="646.3999999999985" y2="373.5" stroke="#9a9a9a" stroke-width="0.7" />
<line x1="650.1999999999985" y1="371.9" x2="650.1999999999985" y2="373.5" stroke="#9a9a9a" stroke-width="0.7" />
<line x1="653.9999999999984" y1="371.9" x2="653.9999999999984" y2="373.5" stroke="#9a9a9a" stroke-width="0.7" />
<line x1="657.7999999999984" y1="371.9" x2="657.7999999999984" y2="373.5" stroke="#9a9a9a" stroke-width="0.7" />
<line x1="661.5999999999983" y1="371.9" x2="661.5999999999983" y2="373.5" stroke="#9a9a9a" stroke-width="0.7" />
<line x1="502.0" y1="371.9" x2="502.0" y2="373.9" stroke="#777" stroke-width="0.8" />
<line x1="502.0" y1="373.9" x2="502.0" y2="379.3" stroke="#c4c4c4" stroke-width="0.7" />
<rect x="501.5" y="375.9" width="1.0" height="2.4" fill="#8a8a8a" stroke="none" stroke-width="0" />
<line x1="521.0" y1="371.9" x2="521.0" y2="373.9" stroke="#777" stroke-width="0.8" />
<line x1="521.0" y1="373.9" x2="521.0" y2="379.3" stroke="#c4c4c4" stroke-width="0.7" />
<rect x="520.5" y="375.9" width="1.0" height="2.4" fill="#8a8a8a" stroke="none" stroke-width="0" />
<line x1="540.0" y1="371.9" x2="540.0" y2="373.9" stroke="#777" stroke-width="0.8" />
<line x1="540.0" y1="373.9" x2="540.0" y2="379.3" stroke="#c4c4c4" stroke-width="0.7" />
<rect x="539.5" y="375.9" width="1.0" height="2.4" fill="#8a8a8a" stroke="none" stroke-width="0" />
<line x1="559.0" y1="371.9" x2="559.0" y2="373.9" stroke="#777" stroke-width="0.8" />
<line x1="559.0" y1="373.9" x2="559.0" y2="379.3" stroke="#c4c4c4" stroke-width="0.7" />
<rect x="558.5" y="375.9" width="1.0" height="2.4" fill="#8a8a8a" stroke="none" stroke-width="0" />
<line x1="578.0" y1="371.9" x2="578.0" y2="373.9" stroke="#777" stroke-width="0.8" />
<line x1="578.0" y1="373.9" x2="578.0" y2="379.3" stroke="#c4c4c4" stroke-width="0.7" />
<rect x="577.5" y="375.9" width="1.0" height="2.4" fill="#8a8a8a" stroke="none" stroke-width="0" />
<line x1="597.0" y1="371.9" x2="597.0" y2="373.9" stroke="#777" stroke-width="0.8" />
<line x1="597.0" y1="373.9" x2="597.0" y2="379.3" stroke="#c4c4c4" stroke-width="0.7" />
<rect x="596.5" y="375.9" width="1.0" height="2.4" fill="#8a8a8a" stroke="none" stroke-width="0" />
<line x1="616.0" y1="371.9" x2="616.0" y2="373.9" stroke="#777" stroke-width="0.8" />
<line x1="616.0" y1="373.9" x2="616.0" y2="379.3" stroke="#c4c4c4" stroke-width="0.7" />
<rect x="615.5" y="375.9" width="1.0" height="2.4" fill="#8a8a8a" stroke="none" stroke-width="0" />
<line x1="635.0" y1="371.9" x2="635.0" y2="373.9" stroke="#777" stroke-width="0.8" />
<line x1="635.0" y1="373.9" x2="635.0" y2="379.3" stroke="#c4c4c4" stroke-width="0.7" />
<rect x="634.5" y="375.9" width="1.0" height="2.4" fill="#8a8a8a" stroke="none" stroke-width="0" />
<line x1="654.0" y1="371.9" x2="654.0" y2="373.9" stroke="#777" stroke-width="0.8" />
<line x1="654.0" y1="373.9" x2="654.0" y2="379.3" stroke="#c4c4c4" stroke-width="0.7" />
<rect x="653.5" y="375.9" width="1.0" height="2.4" fill="#8a8a8a" stroke="none" stroke-width="0" />
<line x1="472.9" y1="379.3" x2="662.6" y2="379.3" stroke="#8a8a8a" stroke-width="0.9" />
<rect x="453.5" y="213" width="215.29999999999995" height="171.5" fill="none" stroke="#1a1a1a" stroke-width="1.5" />
<text x="459.4" y="224.5" font-size="11.6" font-weight="normal" font-style="normal" text-anchor="start" fill="#111" >mAU</text>
<path d="M501.9,341.9 L511.3,364.8 L537.5,337.0 L555.0,339.5 L595.0,339.8 L630.0,336.5" fill="none" stroke="#f27af0" stroke-width="0.7"/>
<path d="M505.6,279.7 L505.6,352.0" fill="none" stroke="#f27af0" stroke-width="0.7"/>
<path d="M509.9,342.0 L509.9,361.0" fill="none" stroke="#f27af0" stroke-width="0.7"/>
<path d="M512.8,335.0 L512.8,361.5" fill="none" stroke="#f27af0" stroke-width="0.7"/>
<path d="M515.9,331.0 L515.9,359.5" fill="none" stroke="#f27af0" stroke-width="0.7"/>
<path d="M516.6,346.8 L516.6,358.6" fill="none" stroke="#f27af0" stroke-width="0.7"/>
<path d="M524.4,337.0 L524.4,351.0" fill="none" stroke="#f27af0" stroke-width="0.7"/>
<path d="M529.3,331.3 L529.3,345.0" fill="none" stroke="#f27af0" stroke-width="0.7"/>
<path d="M541.6,331.3 L541.6,337.5" fill="none" stroke="#f27af0" stroke-width="0.7"/>
<path d="M546.5,335.4 L546.5,338.0" fill="none" stroke="#f27af0" stroke-width="0.7"/>
<path d="M482.70,342.59 C482.93,342.50 484.84,341.59 485.21,341.58 C485.59,341.57 486.44,342.44 486.83,342.46 C487.23,342.48 489.20,341.83 489.65,341.81 C490.09,341.79 491.42,342.23 491.79,342.24 C492.16,342.25 493.40,341.92 493.75,341.88 C494.10,341.85 495.32,341.86 495.70,341.85 C496.09,341.83 497.64,341.66 498.03,341.70 C498.42,341.75 499.74,342.29 500.07,342.32 C500.39,342.35 501.48,342.04 501.64,342.00 C501.81,341.97 501.73,343.88 501.90,341.90 C502.07,339.92 503.21,325.12 503.50,320.00 C503.79,314.88 504.91,288.63 505.10,285.00 C505.29,281.37 505.44,284.15 505.60,279.70 C505.76,275.25 506.67,233.13 506.90,235.50 C507.12,237.87 507.88,299.07 508.10,306.00 C508.33,312.93 509.24,309.26 509.40,312.50 C509.56,315.74 509.79,338.89 509.90,342.00 C510.01,345.11 510.47,345.09 510.60,347.00 C510.73,348.91 511.10,364.28 511.30,363.20 C511.50,362.12 512.53,339.86 512.80,335.00 C513.07,330.14 514.09,309.53 514.30,309.20 C514.51,308.87 514.96,329.34 515.10,331.30 C515.24,333.26 515.76,329.61 515.90,331.00 C516.03,332.39 516.41,346.44 516.60,346.80 C516.79,347.16 517.78,336.47 518.00,335.00 C518.22,333.53 518.71,330.46 519.00,330.50 C519.29,330.54 520.71,334.81 521.20,335.40 C521.69,335.98 523.84,338.18 524.40,337.00 C524.96,335.82 526.96,322.81 527.40,322.30 C527.84,321.79 528.95,333.87 529.30,331.30 C529.65,328.73 530.93,293.47 531.30,293.70 C531.67,293.93 532.91,329.98 533.40,333.80 C533.89,337.62 536.19,338.05 536.70,336.20 C537.21,334.35 538.66,313.74 539.10,313.30 C539.54,312.86 541.19,331.60 541.60,331.30 C542.01,331.00 543.26,309.63 543.70,310.00 C544.14,310.37 546.10,333.35 546.50,335.40 C546.90,337.45 547.75,332.53 548.20,332.80 C548.65,333.07 550.89,337.80 551.50,338.40 C552.11,339.00 554.26,339.38 555.00,339.50 C555.74,339.62 558.84,339.73 559.70,339.70 C560.56,339.67 563.72,339.51 564.60,339.20 C565.48,338.89 568.86,336.53 569.50,336.30 C570.14,336.07 571.39,339.97 571.70,336.70 C572.01,333.43 572.68,306.51 572.90,300.00 C573.12,293.49 573.88,264.40 574.10,264.40 C574.33,264.40 575.15,293.93 575.40,300.00 C575.65,306.07 576.47,328.42 576.90,331.80 C577.33,335.18 579.46,336.93 580.20,337.60 C580.94,338.27 584.46,340.78 585.10,339.20 C585.74,337.62 586.93,322.65 587.30,320.00 C587.67,317.35 588.87,309.70 589.20,309.70 C589.53,309.70 590.70,317.86 591.00,320.00 C591.30,322.14 591.92,331.77 592.50,333.50 C593.08,335.23 596.67,339.43 597.40,339.20 C598.13,338.97 600.09,331.23 600.60,331.00 C601.11,330.77 602.69,336.33 603.10,336.70 C603.51,337.07 604.62,334.90 605.20,335.10 C605.79,335.30 608.94,339.00 609.60,338.90 C610.26,338.80 612.05,334.78 612.50,334.00 C612.95,333.22 614.12,329.96 614.60,330.20 C615.08,330.44 617.33,336.45 617.80,336.70 C618.27,336.95 619.46,333.56 619.80,333.00 C620.14,332.44 621.11,330.24 621.60,330.50 C622.09,330.76 624.44,335.37 625.20,335.90 C625.97,336.43 629.49,336.41 630.10,336.40 C630.71,336.39 631.66,335.75 632.00,335.73 C632.34,335.72 633.50,336.32 633.83,336.28 C634.17,336.23 635.33,335.30 635.69,335.26 C636.05,335.22 637.46,335.81 637.80,335.80 C638.14,335.79 639.15,335.15 639.48,335.14 C639.81,335.13 641.09,335.66 641.46,335.69 C641.83,335.73 643.23,335.64 643.58,335.55 C643.93,335.46 644.97,334.71 645.34,334.68 C645.72,334.65 647.33,335.30 647.74,335.25 C648.15,335.21 649.53,334.23 649.87,334.15 C650.22,334.08 651.26,334.39 651.57,334.44 C651.89,334.49 652.97,334.76 653.37,334.68 C653.77,334.61 655.60,333.63 656.01,333.60 C656.42,333.56 657.53,334.27 657.92,334.31 C658.31,334.36 659.91,334.23 660.31,334.12 C660.70,334.00 662.12,333.11 662.30,333.01" fill="none" stroke="#7c7cf4" stroke-width="0.65" stroke-linejoin="round"/>
<text x="0" y="0" font-size="4.3" fill="#1a1a1a" transform="translate(508.3,233.5) rotate(-90)">1.277</text>
<text x="0" y="0" font-size="4.3" fill="#1a1a1a" transform="translate(507.0,277.5) rotate(-90)">1.208</text>
<text x="0" y="0" font-size="4.3" fill="#1a1a1a" transform="translate(511.1,339.5) rotate(-90)">1.469</text>
<text x="0" y="0" font-size="4.3" fill="#1a1a1a" transform="translate(515.7,306.5) rotate(-90)">1.667</text>
<text x="0" y="0" font-size="4.3" fill="#1a1a1a" transform="translate(517.3,328.5) rotate(-90)">1.728</text>
<text x="0" y="0" font-size="4.3" fill="#1a1a1a" transform="translate(520.4,328.5) rotate(-90)">1.904</text>
<text x="0" y="0" font-size="4.3" fill="#1a1a1a" transform="translate(528.8,319.5) rotate(-90)">2.333</text>
<text x="0" y="0" font-size="4.3" fill="#1a1a1a" transform="translate(532.7,291.5) rotate(-90)">2.536</text>
<text x="0" y="0" font-size="4.3" fill="#1a1a1a" transform="translate(540.5,310.5) rotate(-90)">2.979</text>
<text x="0" y="0" font-size="4.3" fill="#1a1a1a" transform="translate(545.1,307.5) rotate(-90)">3.212</text>
<text x="0" y="0" font-size="4.3" fill="#1a1a1a" transform="translate(549.6,330.5) rotate(-90)">3.444</text>
<text x="0" y="0" font-size="4.3" fill="#1a1a1a" transform="translate(575.5,262.5) rotate(-90)">4.790</text>
<text x="0" y="0" font-size="4.3" fill="#1a1a1a" transform="translate(590.6,307.5) rotate(-90)">5.554</text>
<text x="0" y="0" font-size="4.3" fill="#1a1a1a" transform="translate(602.0,328.5) rotate(-90)">6.193</text>
<text x="0" y="0" font-size="4.3" fill="#1a1a1a" transform="translate(616.0,327.5) rotate(-90)">6.911</text>
<text x="0" y="0" font-size="4.3" fill="#1a1a1a" transform="translate(623.0,327.5) rotate(-90)">7.298</text>
<line x1="604.1" y1="231.7" x2="586.2948895567426" y2="241.7572799574885" stroke="#16a31c" stroke-width="2.5" />
<path d="M580.2,245.2 L584.5,237.6 L588.9,245.4 Z" fill="#16a31c"/>
<line x1="607.7" y1="275.8" x2="596.659750680508" y2="288.17633044732867" stroke="#1a72c8" stroke-width="2.5" />
<path d="M592.0,293.4 L593.6,284.8 L600.4,290.8 Z" fill="#1a72c8"/>
<text x="558.3" y="402.8" font-size="13.6" font-weight="bold" font-style="normal" text-anchor="middle" fill="#000" >C’<tspan font-style="italic" letter-spacing="0.61" dx="0.82">mcrA</tspan></text>
</svg></body></html>
